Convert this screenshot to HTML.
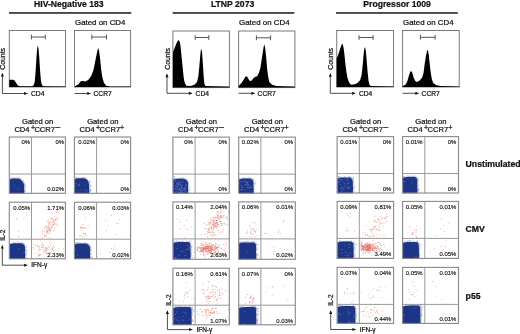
<!DOCTYPE html><html><head><meta charset="utf-8"><style>
html,body{margin:0;padding:0;background:#fff;width:520px;height:334px;overflow:hidden}
svg{display:block;will-change:transform}
text{font-family:"Liberation Sans",sans-serif;fill:#111;stroke:#111;stroke-width:0.22px}
.b{font-weight:bold}.p{font-size:5.95px;stroke-width:0.15px}
</style></head><body>
<svg width="520" height="334" viewBox="0 0 520 334">
<defs><marker id="ah" viewBox="0 0 10 10" refX="10" refY="5" markerWidth="4.2" markerHeight="3.2" orient="auto" markerUnits="userSpaceOnUse"><path d="M0,0 L10,5 L0,10 Z" fill="#111"/></marker><filter id="sb" x="-10%" y="-10%" width="120%" height="120%"><feGaussianBlur stdDeviation="0.45"/></filter></defs>
<path fill="#d8402f" fill-opacity="0.5" d="M44.5,228.5h.9v.9h-.9zM53.4,222.7h.9v.9h-.9zM45.8,225.6h.9v.9h-.9zM46.3,233.1h.9v.9h-.9zM50.5,217.6h.9v.9h-.9zM49.1,229.1h.9v.9h-.9zM49.5,232.4h.9v.9h-.9zM49.7,224.2h.9v.9h-.9zM56.7,224.1h.9v.9h-.9zM51.0,218.6h.9v.9h-.9zM48.7,226.9h.9v.9h-.9zM48.3,225.6h.9v.9h-.9zM47.2,230.5h.9v.9h-.9zM51.1,227.4h.9v.9h-.9zM41.8,230.6h.9v.9h-.9zM45.9,224.9h.9v.9h-.9zM45.2,226.0h.9v.9h-.9zM46.2,227.4h.9v.9h-.9zM57.8,225.7h.9v.9h-.9zM55.9,217.4h.9v.9h-.9zM45.9,230.3h.9v.9h-.9zM47.4,228.4h.9v.9h-.9zM52.9,219.5h.9v.9h-.9zM53.4,220.7h.9v.9h-.9zM55.7,222.7h.9v.9h-.9zM50.8,226.0h.9v.9h-.9zM53.6,222.1h.9v.9h-.9zM52.0,225.2h.9v.9h-.9zM50.1,230.1h.9v.9h-.9zM52.2,220.9h.9v.9h-.9zM49.3,229.0h.9v.9h-.9zM54.6,223.5h.9v.9h-.9zM48.6,229.3h.9v.9h-.9zM49.0,227.4h.9v.9h-.9zM51.6,222.1h.9v.9h-.9zM47.8,223.4h.9v.9h-.9zM45.1,235.8h.9v.9h-.9zM47.8,232.8h.9v.9h-.9zM48.5,230.5h.9v.9h-.9zM46.7,231.0h.9v.9h-.9zM54.8,223.9h.9v.9h-.9zM46.2,232.3h.9v.9h-.9zM55.3,218.6h.9v.9h-.9zM49.0,237.5h.9v.9h-.9zM46.8,230.9h.9v.9h-.9zM52.5,220.3h.9v.9h-.9zM47.4,228.4h.9v.9h-.9zM49.4,230.6h.9v.9h-.9zM44.3,234.8h.9v.9h-.9zM44.2,231.2h.9v.9h-.9zM52.9,224.1h.9v.9h-.9zM47.6,220.1h.9v.9h-.9zM47.7,229.4h.9v.9h-.9zM56.6,219.5h.9v.9h-.9zM46.7,230.2h.9v.9h-.9zM57.1,210.6h.9v.9h-.9zM54.9,220.0h.9v.9h-.9zM47.1,227.4h.9v.9h-.9zM53.3,230.0h.9v.9h-.9zM43.7,236.1h.9v.9h-.9zM42.1,238.1h.9v.9h-.9zM48.9,222.9h.9v.9h-.9zM45.8,235.3h.9v.9h-.9zM49.6,228.0h.9v.9h-.9zM46.8,221.4h.9v.9h-.9zM49.3,222.5h.9v.9h-.9zM51.7,223.8h.9v.9h-.9zM50.8,226.5h.9v.9h-.9zM47.7,226.8h.9v.9h-.9zM47.0,231.6h.9v.9h-.9zM48.6,224.5h.9v.9h-.9zM39.7,236.4h.9v.9h-.9zM53.4,224.8h.9v.9h-.9zM52.2,218.0h.9v.9h-.9zM48.7,227.3h.9v.9h-.9zM53.8,227.6h.9v.9h-.9zM55.7,210.1h.9v.9h-.9zM52.0,227.2h.9v.9h-.9zM44.2,227.2h.9v.9h-.9zM49.9,229.7h.9v.9h-.9zM56.2,212.1h.9v.9h-.9zM54.2,215.9h.9v.9h-.9zM58.2,212.1h.9v.9h-.9zM42.3,233.9h.9v.9h-.9zM57.5,218.3h.9v.9h-.9zM41.9,231.7h.9v.9h-.9zM54.7,219.6h.9v.9h-.9zM49.7,221.5h.9v.9h-.9zM48.3,221.6h.9v.9h-.9zM49.8,230.5h.9v.9h-.9zM58.4,248.7h.9v.9h-.9zM43.1,245.6h.9v.9h-.9zM43.1,244.4h.9v.9h-.9zM54.1,251.9h.9v.9h-.9zM53.3,249.9h.9v.9h-.9zM39.0,249.3h.9v.9h-.9zM41.4,245.1h.9v.9h-.9zM44.0,249.5h.9v.9h-.9zM40.7,254.0h.9v.9h-.9zM45.3,251.0h.9v.9h-.9zM52.5,246.1h.9v.9h-.9zM39.2,253.6h.9v.9h-.9zM46.4,252.5h.9v.9h-.9zM49.3,241.7h.9v.9h-.9zM49.0,246.6h.9v.9h-.9zM38.7,247.5h.9v.9h-.9zM49.4,252.1h.9v.9h-.9zM51.1,243.2h.9v.9h-.9zM39.9,240.7h.9v.9h-.9zM43.3,251.1h.9v.9h-.9zM38.7,249.9h.9v.9h-.9zM45.6,252.5h.9v.9h-.9zM38.3,246.1h.9v.9h-.9zM38.7,255.1h.9v.9h-.9zM51.6,248.6h.9v.9h-.9zM45.6,249.4h.9v.9h-.9zM45.4,248.3h.9v.9h-.9zM41.7,244.6h.9v.9h-.9zM39.5,254.8h.9v.9h-.9zM47.8,249.2h.9v.9h-.9zM42.5,249.2h.9v.9h-.9zM46.5,246.7h.9v.9h-.9zM45.4,249.8h.9v.9h-.9zM38.8,246.2h.9v.9h-.9zM37.0,245.3h.9v.9h-.9zM50.2,240.7h.9v.9h-.9zM42.1,246.9h.9v.9h-.9zM39.7,249.3h.9v.9h-.9zM51.9,249.3h.9v.9h-.9zM43.0,246.9h.9v.9h-.9zM43.1,252.2h.9v.9h-.9zM41.2,245.0h.9v.9h-.9zM35.2,245.1h.9v.9h-.9zM34.3,252.8h.9v.9h-.9zM46.5,248.2h.9v.9h-.9zM54.2,246.7h.9v.9h-.9zM49.3,251.8h.9v.9h-.9zM33.2,243.6h.9v.9h-.9zM37.5,252.2h.9v.9h-.9zM53.1,244.7h.9v.9h-.9zM51.3,247.7h.9v.9h-.9zM41.2,247.1h.9v.9h-.9zM41.7,242.6h.9v.9h-.9zM37.0,244.7h.9v.9h-.9zM47.4,256.3h.9v.9h-.9zM63.1,247.8h.9v.9h-.9zM37.4,255.9h.9v.9h-.9zM48.0,246.4h.9v.9h-.9zM50.6,250.9h.9v.9h-.9zM32.6,247.1h.9v.9h-.9zM42.3,249.1h.9v.9h-.9zM44.9,247.8h.9v.9h-.9zM45.3,246.9h.9v.9h-.9zM37.7,254.3h.9v.9h-.9zM46.5,250.5h.9v.9h-.9zM32.8,248.4h.9v.9h-.9zM49.7,244.5h.9v.9h-.9zM51.7,247.6h.9v.9h-.9zM46.8,248.5h.9v.9h-.9zM45.5,253.2h.9v.9h-.9zM18.0,236.0h.9v.9h-.9zM16.1,218.5h.9v.9h-.9zM23.6,217.5h.9v.9h-.9zM18.1,231.3h.9v.9h-.9zM26.1,212.6h.9v.9h-.9zM86.0,227.6h.9v.9h-.9zM81.5,227.2h.9v.9h-.9zM80.1,227.4h.9v.9h-.9zM82.5,228.1h.9v.9h-.9zM86.0,227.6h.9v.9h-.9zM79.4,235.3h.9v.9h-.9zM80.3,226.3h.9v.9h-.9zM82.7,226.9h.9v.9h-.9zM80.5,227.5h.9v.9h-.9zM88.5,225.4h.9v.9h-.9zM82.7,235.7h.9v.9h-.9zM84.9,233.6h.9v.9h-.9zM85.2,217.2h.9v.9h-.9zM80.8,229.8h.9v.9h-.9zM84.2,236.8h.9v.9h-.9zM84.2,227.6h.9v.9h-.9zM83.1,227.7h.9v.9h-.9zM83.6,233.0h.9v.9h-.9zM82.2,224.1h.9v.9h-.9zM80.9,235.6h.9v.9h-.9zM86.2,235.0h.9v.9h-.9zM85.1,234.0h.9v.9h-.9zM83.0,233.0h.9v.9h-.9zM80.4,227.8h.9v.9h-.9zM106.1,230.4h.9v.9h-.9zM107.4,225.4h.9v.9h-.9zM115.2,234.1h.9v.9h-.9zM105.7,220.4h.9v.9h-.9zM118.5,219.4h.9v.9h-.9zM115.6,222.6h.9v.9h-.9zM111.2,215.1h.9v.9h-.9zM117.7,223.0h.9v.9h-.9zM113.3,248.6h.9v.9h-.9zM110.9,256.4h.9v.9h-.9zM109.8,251.8h.9v.9h-.9zM114.1,246.4h.9v.9h-.9zM111.0,248.0h.9v.9h-.9zM100.0,253.5h.9v.9h-.9zM217.1,225.5h.9v.9h-.9zM216.5,211.0h.9v.9h-.9zM216.8,224.3h.9v.9h-.9zM205.8,224.6h.9v.9h-.9zM206.5,224.8h.9v.9h-.9zM213.5,227.5h.9v.9h-.9zM214.5,226.2h.9v.9h-.9zM209.6,222.3h.9v.9h-.9zM212.3,223.4h.9v.9h-.9zM213.2,229.3h.9v.9h-.9zM216.7,223.6h.9v.9h-.9zM222.1,231.5h.9v.9h-.9zM204.3,227.8h.9v.9h-.9zM207.9,232.0h.9v.9h-.9zM209.1,224.3h.9v.9h-.9zM213.7,224.3h.9v.9h-.9zM217.5,212.1h.9v.9h-.9zM212.8,232.0h.9v.9h-.9zM217.2,217.9h.9v.9h-.9zM213.0,229.0h.9v.9h-.9zM213.2,224.9h.9v.9h-.9zM225.0,217.2h.9v.9h-.9zM217.9,211.7h.9v.9h-.9zM213.1,219.8h.9v.9h-.9zM211.6,220.1h.9v.9h-.9zM223.7,223.6h.9v.9h-.9zM219.8,212.9h.9v.9h-.9zM219.3,218.4h.9v.9h-.9zM226.6,216.3h.9v.9h-.9zM216.7,213.8h.9v.9h-.9zM218.0,217.9h.9v.9h-.9zM215.0,222.4h.9v.9h-.9zM207.6,231.6h.9v.9h-.9zM218.5,225.4h.9v.9h-.9zM213.2,217.5h.9v.9h-.9zM214.5,219.5h.9v.9h-.9zM214.3,217.3h.9v.9h-.9zM209.9,223.6h.9v.9h-.9zM221.2,225.0h.9v.9h-.9zM217.1,213.7h.9v.9h-.9zM215.2,224.8h.9v.9h-.9zM211.7,217.4h.9v.9h-.9zM210.2,232.1h.9v.9h-.9zM216.4,226.4h.9v.9h-.9zM211.3,227.2h.9v.9h-.9zM209.6,222.4h.9v.9h-.9zM221.3,223.1h.9v.9h-.9zM221.3,224.7h.9v.9h-.9zM216.0,222.4h.9v.9h-.9zM210.5,218.2h.9v.9h-.9zM222.8,229.5h.9v.9h-.9zM213.7,231.7h.9v.9h-.9zM213.3,232.2h.9v.9h-.9zM213.5,223.4h.9v.9h-.9zM220.2,222.5h.9v.9h-.9zM208.1,223.4h.9v.9h-.9zM209.1,229.3h.9v.9h-.9zM214.1,217.6h.9v.9h-.9zM206.9,235.9h.9v.9h-.9zM213.2,226.1h.9v.9h-.9zM213.0,227.1h.9v.9h-.9zM213.8,234.8h.9v.9h-.9zM201.0,234.5h.9v.9h-.9zM215.1,222.8h.9v.9h-.9zM226.6,223.8h.9v.9h-.9zM220.3,231.8h.9v.9h-.9zM207.1,228.4h.9v.9h-.9zM218.1,224.1h.9v.9h-.9zM203.6,222.6h.9v.9h-.9zM216.9,217.2h.9v.9h-.9zM224.0,223.3h.9v.9h-.9zM213.1,222.9h.9v.9h-.9zM212.8,219.6h.9v.9h-.9zM213.4,227.2h.9v.9h-.9zM211.8,224.4h.9v.9h-.9zM205.2,228.7h.9v.9h-.9zM209.5,226.5h.9v.9h-.9zM211.3,221.4h.9v.9h-.9zM219.3,216.5h.9v.9h-.9zM226.5,224.7h.9v.9h-.9zM216.2,219.9h.9v.9h-.9zM217.1,234.7h.9v.9h-.9zM220.3,215.4h.9v.9h-.9zM209.3,229.3h.9v.9h-.9zM215.6,216.7h.9v.9h-.9zM210.8,219.6h.9v.9h-.9zM216.3,220.5h.9v.9h-.9zM226.5,217.7h.9v.9h-.9zM215.4,225.6h.9v.9h-.9zM209.7,232.3h.9v.9h-.9zM213.5,222.7h.9v.9h-.9zM212.5,224.3h.9v.9h-.9zM217.7,230.4h.9v.9h-.9zM208.8,221.9h.9v.9h-.9zM207.2,230.7h.9v.9h-.9zM212.0,231.2h.9v.9h-.9zM220.4,211.6h.9v.9h-.9zM215.5,226.6h.9v.9h-.9zM221.1,215.9h.9v.9h-.9zM216.8,220.2h.9v.9h-.9zM209.3,227.5h.9v.9h-.9zM218.9,218.8h.9v.9h-.9zM214.1,207.7h.9v.9h-.9zM207.2,232.9h.9v.9h-.9zM221.6,209.2h.9v.9h-.9zM208.2,228.0h.9v.9h-.9zM218.3,233.2h.9v.9h-.9zM215.1,226.4h.9v.9h-.9zM210.3,221.8h.9v.9h-.9zM215.0,219.6h.9v.9h-.9zM215.7,222.3h.9v.9h-.9zM210.7,235.0h.9v.9h-.9zM216.2,227.9h.9v.9h-.9zM218.1,214.4h.9v.9h-.9zM211.5,228.8h.9v.9h-.9zM204.6,233.8h.9v.9h-.9zM211.0,227.6h.9v.9h-.9zM216.8,216.2h.9v.9h-.9zM220.5,221.1h.9v.9h-.9zM218.2,219.4h.9v.9h-.9zM208.7,231.4h.9v.9h-.9zM226.7,219.1h.9v.9h-.9zM210.7,231.6h.9v.9h-.9zM208.4,230.0h.9v.9h-.9zM208.0,229.2h.9v.9h-.9zM211.9,233.5h.9v.9h-.9zM220.0,216.6h.9v.9h-.9zM221.2,217.3h.9v.9h-.9zM212.5,235.6h.9v.9h-.9zM218.9,221.1h.9v.9h-.9zM219.4,226.2h.9v.9h-.9zM209.0,222.5h.9v.9h-.9zM222.2,222.9h.9v.9h-.9zM215.8,222.6h.9v.9h-.9zM207.4,221.4h.9v.9h-.9zM215.1,226.5h.9v.9h-.9zM220.6,210.1h.9v.9h-.9zM217.6,230.0h.9v.9h-.9zM214.6,234.1h.9v.9h-.9zM213.9,220.8h.9v.9h-.9zM210.2,252.7h.9v.9h-.9zM196.2,247.4h.9v.9h-.9zM203.0,249.6h.9v.9h-.9zM218.3,247.2h.9v.9h-.9zM199.3,248.1h.9v.9h-.9zM206.0,243.7h.9v.9h-.9zM214.2,246.5h.9v.9h-.9zM212.8,244.3h.9v.9h-.9zM215.7,244.0h.9v.9h-.9zM215.4,242.9h.9v.9h-.9zM217.7,247.0h.9v.9h-.9zM197.1,247.3h.9v.9h-.9zM210.4,245.2h.9v.9h-.9zM204.5,248.8h.9v.9h-.9zM205.0,249.2h.9v.9h-.9zM210.1,250.8h.9v.9h-.9zM203.2,255.1h.9v.9h-.9zM213.6,248.9h.9v.9h-.9zM215.6,250.7h.9v.9h-.9zM208.7,246.3h.9v.9h-.9zM215.2,249.2h.9v.9h-.9zM211.3,248.3h.9v.9h-.9zM210.0,249.8h.9v.9h-.9zM209.0,252.4h.9v.9h-.9zM203.9,246.9h.9v.9h-.9zM210.3,250.1h.9v.9h-.9zM213.5,252.2h.9v.9h-.9zM204.7,251.3h.9v.9h-.9zM211.3,245.1h.9v.9h-.9zM207.0,253.8h.9v.9h-.9zM213.5,246.7h.9v.9h-.9zM203.1,248.2h.9v.9h-.9zM224.2,250.1h.9v.9h-.9zM210.2,245.4h.9v.9h-.9zM199.7,247.4h.9v.9h-.9zM204.7,256.4h.9v.9h-.9zM205.2,246.3h.9v.9h-.9zM215.9,248.2h.9v.9h-.9zM199.4,251.6h.9v.9h-.9zM205.8,244.3h.9v.9h-.9zM210.2,249.4h.9v.9h-.9zM205.6,250.0h.9v.9h-.9zM213.7,245.5h.9v.9h-.9zM207.1,251.4h.9v.9h-.9zM215.0,251.9h.9v.9h-.9zM221.0,248.0h.9v.9h-.9zM215.4,243.7h.9v.9h-.9zM212.8,249.1h.9v.9h-.9zM207.3,246.8h.9v.9h-.9zM200.2,248.4h.9v.9h-.9zM216.9,247.0h.9v.9h-.9zM211.7,246.1h.9v.9h-.9zM209.8,245.2h.9v.9h-.9zM210.6,247.4h.9v.9h-.9zM210.2,246.3h.9v.9h-.9zM199.8,247.1h.9v.9h-.9zM215.3,252.4h.9v.9h-.9zM205.7,250.2h.9v.9h-.9zM213.3,249.1h.9v.9h-.9zM197.1,248.9h.9v.9h-.9zM201.2,251.3h.9v.9h-.9zM213.5,249.7h.9v.9h-.9zM212.9,244.4h.9v.9h-.9zM214.8,248.2h.9v.9h-.9zM206.7,246.0h.9v.9h-.9zM200.9,246.8h.9v.9h-.9zM209.5,246.2h.9v.9h-.9zM203.7,246.5h.9v.9h-.9zM201.8,250.5h.9v.9h-.9zM206.1,250.4h.9v.9h-.9zM199.9,250.6h.9v.9h-.9zM207.8,249.9h.9v.9h-.9zM207.3,245.5h.9v.9h-.9zM216.5,246.8h.9v.9h-.9zM207.0,245.5h.9v.9h-.9zM209.4,246.9h.9v.9h-.9zM210.0,249.0h.9v.9h-.9zM203.2,244.1h.9v.9h-.9zM211.0,250.6h.9v.9h-.9zM212.9,244.8h.9v.9h-.9zM212.2,249.1h.9v.9h-.9zM210.0,249.2h.9v.9h-.9zM205.7,248.6h.9v.9h-.9zM214.5,246.6h.9v.9h-.9zM197.9,247.7h.9v.9h-.9zM209.4,242.8h.9v.9h-.9zM203.3,249.7h.9v.9h-.9zM206.9,248.3h.9v.9h-.9zM199.2,250.5h.9v.9h-.9zM220.3,247.4h.9v.9h-.9zM202.9,244.8h.9v.9h-.9zM214.2,248.3h.9v.9h-.9zM202.4,251.4h.9v.9h-.9zM213.4,249.7h.9v.9h-.9zM212.4,244.6h.9v.9h-.9zM214.5,252.0h.9v.9h-.9zM215.2,246.0h.9v.9h-.9zM203.0,250.6h.9v.9h-.9zM215.0,251.4h.9v.9h-.9zM216.4,247.7h.9v.9h-.9zM205.1,242.8h.9v.9h-.9zM213.5,254.4h.9v.9h-.9zM204.8,246.7h.9v.9h-.9zM212.5,249.0h.9v.9h-.9zM198.4,246.0h.9v.9h-.9zM200.3,253.7h.9v.9h-.9zM203.0,250.4h.9v.9h-.9zM221.4,253.3h.9v.9h-.9zM218.0,252.6h.9v.9h-.9zM199.4,247.0h.9v.9h-.9zM202.9,247.2h.9v.9h-.9zM226.3,243.3h.9v.9h-.9zM211.9,244.5h.9v.9h-.9zM217.4,251.6h.9v.9h-.9zM204.4,253.8h.9v.9h-.9zM208.5,251.6h.9v.9h-.9zM210.2,246.4h.9v.9h-.9zM205.3,247.7h.9v.9h-.9zM212.3,248.4h.9v.9h-.9zM224.5,247.5h.9v.9h-.9zM204.7,246.0h.9v.9h-.9zM202.6,244.0h.9v.9h-.9zM201.1,250.5h.9v.9h-.9zM208.4,247.5h.9v.9h-.9zM210.5,251.0h.9v.9h-.9zM212.3,250.2h.9v.9h-.9zM204.1,247.3h.9v.9h-.9zM202.6,247.7h.9v.9h-.9zM202.3,247.0h.9v.9h-.9zM206.8,247.4h.9v.9h-.9zM206.1,246.6h.9v.9h-.9zM217.2,247.0h.9v.9h-.9zM200.9,248.5h.9v.9h-.9zM200.4,245.0h.9v.9h-.9zM208.6,243.3h.9v.9h-.9zM215.2,243.3h.9v.9h-.9zM201.7,249.6h.9v.9h-.9zM199.6,247.4h.9v.9h-.9zM207.0,248.8h.9v.9h-.9zM205.7,242.1h.9v.9h-.9zM206.9,244.2h.9v.9h-.9zM208.1,245.6h.9v.9h-.9zM205.8,247.4h.9v.9h-.9zM213.4,250.1h.9v.9h-.9zM201.0,248.0h.9v.9h-.9zM218.2,249.4h.9v.9h-.9zM202.9,247.7h.9v.9h-.9zM205.6,250.6h.9v.9h-.9zM208.2,249.1h.9v.9h-.9zM223.5,244.1h.9v.9h-.9zM200.9,243.2h.9v.9h-.9zM196.9,250.4h.9v.9h-.9zM210.0,252.6h.9v.9h-.9zM218.1,250.9h.9v.9h-.9zM214.2,250.4h.9v.9h-.9zM208.2,248.0h.9v.9h-.9zM208.2,250.4h.9v.9h-.9zM206.9,248.9h.9v.9h-.9zM218.2,244.8h.9v.9h-.9zM202.7,249.6h.9v.9h-.9zM206.2,247.6h.9v.9h-.9zM222.7,249.2h.9v.9h-.9zM205.1,251.1h.9v.9h-.9zM225.6,244.9h.9v.9h-.9zM203.3,248.3h.9v.9h-.9zM203.5,254.1h.9v.9h-.9zM211.7,246.9h.9v.9h-.9zM211.4,245.8h.9v.9h-.9zM203.8,248.3h.9v.9h-.9zM224.7,241.7h.9v.9h-.9zM210.9,251.8h.9v.9h-.9zM213.2,253.4h.9v.9h-.9zM211.2,248.4h.9v.9h-.9zM207.1,245.6h.9v.9h-.9zM219.4,244.7h.9v.9h-.9zM207.1,246.5h.9v.9h-.9zM202.5,241.8h.9v.9h-.9zM205.3,248.4h.9v.9h-.9zM209.0,250.4h.9v.9h-.9zM206.9,246.2h.9v.9h-.9zM210.2,249.9h.9v.9h-.9zM201.7,243.7h.9v.9h-.9zM200.8,251.0h.9v.9h-.9zM215.0,245.5h.9v.9h-.9zM208.8,250.3h.9v.9h-.9zM217.3,246.2h.9v.9h-.9zM206.3,251.9h.9v.9h-.9zM224.9,252.3h.9v.9h-.9zM200.0,249.3h.9v.9h-.9zM205.9,247.8h.9v.9h-.9zM203.4,246.7h.9v.9h-.9zM207.9,253.0h.9v.9h-.9zM212.9,249.2h.9v.9h-.9zM208.2,245.9h.9v.9h-.9zM206.4,251.5h.9v.9h-.9zM213.8,253.5h.9v.9h-.9zM209.8,247.9h.9v.9h-.9zM196.7,249.1h.9v.9h-.9zM203.6,248.0h.9v.9h-.9zM198.5,246.6h.9v.9h-.9zM201.5,251.2h.9v.9h-.9zM209.7,244.7h.9v.9h-.9zM204.6,244.9h.9v.9h-.9zM212.1,247.5h.9v.9h-.9zM208.8,246.3h.9v.9h-.9zM204.0,246.7h.9v.9h-.9zM196.8,249.8h.9v.9h-.9zM210.8,243.2h.9v.9h-.9zM208.7,251.2h.9v.9h-.9zM209.7,251.6h.9v.9h-.9zM183.7,225.0h.9v.9h-.9zM178.5,218.7h.9v.9h-.9zM175.9,218.7h.9v.9h-.9zM186.2,228.6h.9v.9h-.9zM190.8,225.9h.9v.9h-.9zM180.1,228.0h.9v.9h-.9zM184.3,237.5h.9v.9h-.9zM179.3,221.3h.9v.9h-.9zM186.0,220.0h.9v.9h-.9zM187.6,229.8h.9v.9h-.9zM254.5,231.1h.9v.9h-.9zM249.3,225.8h.9v.9h-.9zM251.6,236.6h.9v.9h-.9zM256.7,234.9h.9v.9h-.9zM253.1,233.4h.9v.9h-.9zM254.5,236.5h.9v.9h-.9zM254.6,222.3h.9v.9h-.9zM254.9,231.9h.9v.9h-.9zM250.6,232.6h.9v.9h-.9zM252.9,229.7h.9v.9h-.9zM246.9,230.6h.9v.9h-.9zM253.7,229.8h.9v.9h-.9zM247.2,232.3h.9v.9h-.9zM254.2,230.9h.9v.9h-.9zM253.3,228.2h.9v.9h-.9zM250.0,232.6h.9v.9h-.9zM250.9,230.9h.9v.9h-.9zM252.4,221.9h.9v.9h-.9zM252.3,233.8h.9v.9h-.9zM249.9,228.8h.9v.9h-.9zM245.2,232.8h.9v.9h-.9zM250.2,233.4h.9v.9h-.9zM256.1,229.2h.9v.9h-.9zM255.0,231.3h.9v.9h-.9zM251.4,228.6h.9v.9h-.9zM249.4,236.4h.9v.9h-.9zM283.0,220.0h.9v.9h-.9zM282.7,221.6h.9v.9h-.9zM264.0,233.2h.9v.9h-.9zM265.8,233.1h.9v.9h-.9zM277.6,231.4h.9v.9h-.9zM280.1,232.9h.9v.9h-.9zM278.8,229.5h.9v.9h-.9zM278.0,232.6h.9v.9h-.9zM272.9,254.1h.9v.9h-.9zM288.1,249.7h.9v.9h-.9zM279.5,247.9h.9v.9h-.9zM273.7,251.0h.9v.9h-.9zM273.3,246.5h.9v.9h-.9zM185.9,293.1h.9v.9h-.9zM187.3,296.3h.9v.9h-.9zM178.9,300.5h.9v.9h-.9zM185.3,287.4h.9v.9h-.9zM184.5,294.7h.9v.9h-.9zM189.5,289.8h.9v.9h-.9zM186.6,282.4h.9v.9h-.9zM186.7,291.3h.9v.9h-.9zM184.3,297.3h.9v.9h-.9zM193.2,298.2h.9v.9h-.9zM182.9,301.2h.9v.9h-.9zM184.7,291.8h.9v.9h-.9zM183.7,294.7h.9v.9h-.9zM188.2,292.9h.9v.9h-.9zM211.8,292.2h.9v.9h-.9zM208.6,298.3h.9v.9h-.9zM209.6,292.2h.9v.9h-.9zM212.8,288.9h.9v.9h-.9zM213.8,284.9h.9v.9h-.9zM215.0,296.0h.9v.9h-.9zM208.3,301.5h.9v.9h-.9zM206.4,296.0h.9v.9h-.9zM217.2,290.1h.9v.9h-.9zM209.9,297.9h.9v.9h-.9zM213.0,294.5h.9v.9h-.9zM222.4,294.2h.9v.9h-.9zM202.6,289.0h.9v.9h-.9zM219.0,292.3h.9v.9h-.9zM208.7,282.2h.9v.9h-.9zM212.8,301.2h.9v.9h-.9zM207.8,281.1h.9v.9h-.9zM217.4,290.0h.9v.9h-.9zM211.5,291.2h.9v.9h-.9zM206.0,295.4h.9v.9h-.9zM218.8,295.0h.9v.9h-.9zM207.4,298.7h.9v.9h-.9zM211.3,296.2h.9v.9h-.9zM205.4,296.6h.9v.9h-.9zM216.1,300.0h.9v.9h-.9zM212.5,295.4h.9v.9h-.9zM207.6,297.8h.9v.9h-.9zM216.6,298.9h.9v.9h-.9zM212.3,286.3h.9v.9h-.9zM212.9,291.9h.9v.9h-.9zM206.8,296.3h.9v.9h-.9zM218.9,295.2h.9v.9h-.9zM220.1,295.2h.9v.9h-.9zM207.2,289.8h.9v.9h-.9zM209.4,296.7h.9v.9h-.9zM219.2,293.7h.9v.9h-.9zM221.4,288.5h.9v.9h-.9zM209.8,301.1h.9v.9h-.9zM214.4,298.7h.9v.9h-.9zM202.7,283.9h.9v.9h-.9zM205.4,298.5h.9v.9h-.9zM225.3,289.7h.9v.9h-.9zM207.9,287.5h.9v.9h-.9zM205.9,296.0h.9v.9h-.9zM207.8,303.2h.9v.9h-.9zM219.1,289.3h.9v.9h-.9zM214.9,292.2h.9v.9h-.9zM217.0,297.9h.9v.9h-.9zM209.2,297.9h.9v.9h-.9zM217.1,292.5h.9v.9h-.9zM213.7,296.7h.9v.9h-.9zM211.9,289.4h.9v.9h-.9zM221.8,293.0h.9v.9h-.9zM208.2,295.5h.9v.9h-.9zM202.8,293.3h.9v.9h-.9zM204.3,290.7h.9v.9h-.9zM201.9,289.1h.9v.9h-.9zM219.5,292.0h.9v.9h-.9zM201.8,302.4h.9v.9h-.9zM206.3,301.0h.9v.9h-.9zM211.8,285.1h.9v.9h-.9zM226.4,290.7h.9v.9h-.9zM216.3,299.5h.9v.9h-.9zM203.9,293.4h.9v.9h-.9zM208.1,296.3h.9v.9h-.9zM215.0,286.2h.9v.9h-.9zM212.2,297.2h.9v.9h-.9zM210.1,296.1h.9v.9h-.9zM209.5,292.8h.9v.9h-.9zM215.2,293.8h.9v.9h-.9zM220.2,298.1h.9v.9h-.9zM217.6,296.9h.9v.9h-.9zM216.0,286.8h.9v.9h-.9zM217.5,302.4h.9v.9h-.9zM215.0,291.7h.9v.9h-.9zM208.8,315.0h.9v.9h-.9zM211.0,309.6h.9v.9h-.9zM207.9,310.1h.9v.9h-.9zM207.7,309.8h.9v.9h-.9zM203.1,315.6h.9v.9h-.9zM216.2,308.1h.9v.9h-.9zM202.3,310.9h.9v.9h-.9zM206.4,308.6h.9v.9h-.9zM215.1,308.1h.9v.9h-.9zM213.8,313.7h.9v.9h-.9zM206.5,310.4h.9v.9h-.9zM209.5,312.4h.9v.9h-.9zM212.7,311.8h.9v.9h-.9zM206.2,309.6h.9v.9h-.9zM204.2,310.2h.9v.9h-.9zM228.2,309.0h.9v.9h-.9zM219.6,313.2h.9v.9h-.9zM210.5,312.5h.9v.9h-.9zM206.5,315.9h.9v.9h-.9zM212.5,311.9h.9v.9h-.9zM208.2,312.5h.9v.9h-.9zM201.2,311.2h.9v.9h-.9zM204.8,313.5h.9v.9h-.9zM213.2,307.5h.9v.9h-.9zM207.5,314.4h.9v.9h-.9zM200.2,309.1h.9v.9h-.9zM215.9,311.7h.9v.9h-.9zM206.0,309.1h.9v.9h-.9zM210.2,310.7h.9v.9h-.9zM210.5,313.1h.9v.9h-.9zM213.9,311.2h.9v.9h-.9zM205.5,312.1h.9v.9h-.9zM208.4,312.4h.9v.9h-.9zM205.4,311.4h.9v.9h-.9zM205.0,310.6h.9v.9h-.9zM210.1,314.8h.9v.9h-.9zM205.4,313.4h.9v.9h-.9zM211.4,312.3h.9v.9h-.9zM213.7,310.7h.9v.9h-.9zM212.9,312.8h.9v.9h-.9zM213.2,316.8h.9v.9h-.9zM201.8,312.3h.9v.9h-.9zM211.5,309.6h.9v.9h-.9zM217.3,313.1h.9v.9h-.9zM203.6,309.1h.9v.9h-.9zM206.2,317.8h.9v.9h-.9zM196.6,313.7h.9v.9h-.9zM208.3,310.5h.9v.9h-.9zM213.2,312.3h.9v.9h-.9zM211.0,312.7h.9v.9h-.9zM201.6,315.2h.9v.9h-.9zM205.9,314.8h.9v.9h-.9zM213.8,312.1h.9v.9h-.9zM210.0,311.9h.9v.9h-.9zM196.4,311.2h.9v.9h-.9zM212.0,308.1h.9v.9h-.9zM198.8,314.7h.9v.9h-.9zM214.6,308.2h.9v.9h-.9zM212.2,311.9h.9v.9h-.9zM215.8,311.2h.9v.9h-.9zM250.5,296.4h.9v.9h-.9zM251.5,298.6h.9v.9h-.9zM249.4,297.8h.9v.9h-.9zM249.2,301.2h.9v.9h-.9zM248.5,293.7h.9v.9h-.9zM248.6,302.7h.9v.9h-.9zM249.8,301.2h.9v.9h-.9zM252.8,297.3h.9v.9h-.9zM252.9,300.8h.9v.9h-.9zM250.9,296.6h.9v.9h-.9zM250.9,294.6h.9v.9h-.9zM250.3,297.0h.9v.9h-.9zM252.1,300.2h.9v.9h-.9zM249.4,302.0h.9v.9h-.9zM253.9,299.2h.9v.9h-.9zM249.2,300.8h.9v.9h-.9zM245.0,297.0h.9v.9h-.9zM245.2,302.8h.9v.9h-.9zM251.5,302.5h.9v.9h-.9zM250.6,296.9h.9v.9h-.9zM253.1,298.0h.9v.9h-.9zM252.0,302.0h.9v.9h-.9zM252.4,298.9h.9v.9h-.9zM249.4,296.4h.9v.9h-.9zM249.9,297.1h.9v.9h-.9zM247.1,294.1h.9v.9h-.9zM283.0,285.4h.9v.9h-.9zM265.6,291.8h.9v.9h-.9zM287.5,299.5h.9v.9h-.9zM272.8,285.9h.9v.9h-.9zM271.8,286.6h.9v.9h-.9zM271.7,294.9h.9v.9h-.9zM267.6,287.4h.9v.9h-.9zM374.9,225.8h.9v.9h-.9zM375.3,220.5h.9v.9h-.9zM373.6,220.8h.9v.9h-.9zM379.2,224.3h.9v.9h-.9zM378.7,220.0h.9v.9h-.9zM385.4,205.0h.9v.9h-.9zM364.6,234.1h.9v.9h-.9zM372.6,226.3h.9v.9h-.9zM383.8,217.5h.9v.9h-.9zM386.3,221.0h.9v.9h-.9zM381.6,218.0h.9v.9h-.9zM377.7,225.9h.9v.9h-.9zM384.9,218.0h.9v.9h-.9zM369.4,228.5h.9v.9h-.9zM379.7,222.5h.9v.9h-.9zM369.9,235.9h.9v.9h-.9zM379.1,230.0h.9v.9h-.9zM381.2,218.1h.9v.9h-.9zM385.5,216.5h.9v.9h-.9zM369.0,221.4h.9v.9h-.9zM378.7,222.2h.9v.9h-.9zM373.4,228.4h.9v.9h-.9zM379.3,227.5h.9v.9h-.9zM386.6,216.0h.9v.9h-.9zM376.6,229.0h.9v.9h-.9zM364.9,234.8h.9v.9h-.9zM373.9,215.9h.9v.9h-.9zM383.5,235.1h.9v.9h-.9zM373.0,235.5h.9v.9h-.9zM385.1,218.1h.9v.9h-.9zM373.3,235.8h.9v.9h-.9zM375.0,226.5h.9v.9h-.9zM371.3,231.2h.9v.9h-.9zM375.6,221.9h.9v.9h-.9zM373.7,219.5h.9v.9h-.9zM375.3,229.3h.9v.9h-.9zM377.9,218.6h.9v.9h-.9zM376.3,228.5h.9v.9h-.9zM383.5,222.5h.9v.9h-.9zM372.3,229.6h.9v.9h-.9zM383.1,225.7h.9v.9h-.9zM378.9,219.4h.9v.9h-.9zM371.0,232.7h.9v.9h-.9zM375.9,233.9h.9v.9h-.9zM365.6,231.9h.9v.9h-.9zM369.7,230.2h.9v.9h-.9zM365.6,225.3h.9v.9h-.9zM367.5,235.0h.9v.9h-.9zM372.0,235.2h.9v.9h-.9zM377.3,219.1h.9v.9h-.9zM381.5,223.2h.9v.9h-.9zM380.5,216.5h.9v.9h-.9zM374.0,226.8h.9v.9h-.9zM371.4,228.8h.9v.9h-.9zM362.4,232.3h.9v.9h-.9zM369.0,236.4h.9v.9h-.9zM376.7,221.4h.9v.9h-.9zM373.0,228.0h.9v.9h-.9zM380.3,222.7h.9v.9h-.9zM370.9,229.1h.9v.9h-.9zM385.9,213.7h.9v.9h-.9zM373.6,221.3h.9v.9h-.9zM379.4,234.7h.9v.9h-.9zM377.9,229.5h.9v.9h-.9zM366.9,234.0h.9v.9h-.9zM365.3,244.9h.9v.9h-.9zM379.8,243.2h.9v.9h-.9zM376.4,247.5h.9v.9h-.9zM362.4,247.5h.9v.9h-.9zM362.9,247.5h.9v.9h-.9zM364.1,243.9h.9v.9h-.9zM384.1,245.7h.9v.9h-.9zM374.0,246.9h.9v.9h-.9zM372.1,243.7h.9v.9h-.9zM374.1,248.2h.9v.9h-.9zM360.9,249.2h.9v.9h-.9zM371.6,254.7h.9v.9h-.9zM369.5,249.4h.9v.9h-.9zM371.7,249.0h.9v.9h-.9zM367.9,245.9h.9v.9h-.9zM372.3,250.3h.9v.9h-.9zM360.9,244.0h.9v.9h-.9zM367.8,251.7h.9v.9h-.9zM366.8,242.5h.9v.9h-.9zM372.9,249.0h.9v.9h-.9zM379.8,247.5h.9v.9h-.9zM380.0,245.1h.9v.9h-.9zM373.5,247.4h.9v.9h-.9zM360.8,246.3h.9v.9h-.9zM376.1,250.0h.9v.9h-.9zM365.7,249.9h.9v.9h-.9zM373.5,249.4h.9v.9h-.9zM369.8,247.8h.9v.9h-.9zM363.0,246.8h.9v.9h-.9zM368.8,245.1h.9v.9h-.9zM366.3,247.4h.9v.9h-.9zM369.3,249.8h.9v.9h-.9zM361.8,246.0h.9v.9h-.9zM369.7,246.0h.9v.9h-.9zM370.0,245.8h.9v.9h-.9zM375.2,246.4h.9v.9h-.9zM361.1,249.0h.9v.9h-.9zM378.1,241.9h.9v.9h-.9zM367.2,247.2h.9v.9h-.9zM374.3,251.0h.9v.9h-.9zM367.1,242.9h.9v.9h-.9zM372.1,249.7h.9v.9h-.9zM370.9,247.2h.9v.9h-.9zM363.1,253.4h.9v.9h-.9zM360.8,243.1h.9v.9h-.9zM374.0,247.8h.9v.9h-.9zM372.1,248.0h.9v.9h-.9zM378.3,250.8h.9v.9h-.9zM364.7,249.7h.9v.9h-.9zM360.9,242.5h.9v.9h-.9zM375.3,245.9h.9v.9h-.9zM364.0,248.4h.9v.9h-.9zM367.7,245.0h.9v.9h-.9zM363.7,249.0h.9v.9h-.9zM362.4,247.4h.9v.9h-.9zM362.0,248.2h.9v.9h-.9zM378.9,248.5h.9v.9h-.9zM374.8,248.2h.9v.9h-.9zM362.2,246.2h.9v.9h-.9zM368.5,248.2h.9v.9h-.9zM364.4,248.6h.9v.9h-.9zM363.7,247.2h.9v.9h-.9zM368.0,244.0h.9v.9h-.9zM374.1,247.1h.9v.9h-.9zM368.7,246.9h.9v.9h-.9zM362.6,249.6h.9v.9h-.9zM364.5,248.6h.9v.9h-.9zM361.8,244.8h.9v.9h-.9zM365.2,249.8h.9v.9h-.9zM370.5,247.4h.9v.9h-.9zM367.9,249.1h.9v.9h-.9zM369.8,244.4h.9v.9h-.9zM371.9,245.0h.9v.9h-.9zM366.0,250.8h.9v.9h-.9zM382.8,250.8h.9v.9h-.9zM370.6,245.0h.9v.9h-.9zM363.4,251.4h.9v.9h-.9zM370.1,243.4h.9v.9h-.9zM377.5,248.5h.9v.9h-.9zM376.0,248.1h.9v.9h-.9zM367.2,246.6h.9v.9h-.9zM377.2,245.3h.9v.9h-.9zM367.4,246.9h.9v.9h-.9zM367.5,244.3h.9v.9h-.9zM360.6,240.3h.9v.9h-.9zM370.1,246.5h.9v.9h-.9zM369.3,244.3h.9v.9h-.9zM368.1,244.5h.9v.9h-.9zM361.9,247.9h.9v.9h-.9zM371.9,248.5h.9v.9h-.9zM367.8,246.0h.9v.9h-.9zM376.5,250.3h.9v.9h-.9zM364.2,244.2h.9v.9h-.9zM370.3,247.9h.9v.9h-.9zM362.5,253.0h.9v.9h-.9zM369.5,249.6h.9v.9h-.9zM376.7,250.7h.9v.9h-.9zM366.5,247.1h.9v.9h-.9zM362.7,248.0h.9v.9h-.9zM361.7,241.7h.9v.9h-.9zM375.8,249.6h.9v.9h-.9zM372.0,250.0h.9v.9h-.9zM369.6,249.3h.9v.9h-.9zM370.9,249.1h.9v.9h-.9zM361.9,245.3h.9v.9h-.9zM362.0,249.2h.9v.9h-.9zM371.1,245.0h.9v.9h-.9zM362.1,245.5h.9v.9h-.9zM373.3,246.7h.9v.9h-.9zM366.6,245.2h.9v.9h-.9zM367.3,251.2h.9v.9h-.9zM363.9,246.1h.9v.9h-.9zM378.3,248.9h.9v.9h-.9zM361.2,249.9h.9v.9h-.9zM360.4,248.5h.9v.9h-.9zM373.6,245.5h.9v.9h-.9zM363.7,247.2h.9v.9h-.9zM368.1,245.8h.9v.9h-.9zM364.0,251.7h.9v.9h-.9zM377.1,247.9h.9v.9h-.9zM361.1,245.6h.9v.9h-.9zM366.3,248.3h.9v.9h-.9zM377.7,245.7h.9v.9h-.9zM368.9,245.9h.9v.9h-.9zM368.9,245.2h.9v.9h-.9zM370.3,250.1h.9v.9h-.9zM365.7,246.2h.9v.9h-.9zM368.7,243.6h.9v.9h-.9zM379.0,243.5h.9v.9h-.9zM365.9,244.7h.9v.9h-.9zM377.1,245.7h.9v.9h-.9zM365.0,252.0h.9v.9h-.9zM367.3,245.0h.9v.9h-.9zM368.0,247.5h.9v.9h-.9zM363.5,246.5h.9v.9h-.9zM366.8,248.9h.9v.9h-.9zM372.7,249.2h.9v.9h-.9zM367.3,249.1h.9v.9h-.9zM366.8,250.1h.9v.9h-.9zM370.5,245.9h.9v.9h-.9zM375.5,243.1h.9v.9h-.9zM362.2,244.9h.9v.9h-.9zM367.3,243.8h.9v.9h-.9zM360.8,242.1h.9v.9h-.9zM368.7,245.0h.9v.9h-.9zM381.3,249.0h.9v.9h-.9zM361.1,250.5h.9v.9h-.9zM368.7,249.8h.9v.9h-.9zM361.3,250.1h.9v.9h-.9zM374.7,245.9h.9v.9h-.9zM362.9,246.0h.9v.9h-.9zM369.6,253.3h.9v.9h-.9zM379.0,250.9h.9v.9h-.9zM366.7,246.2h.9v.9h-.9zM370.3,246.3h.9v.9h-.9zM365.2,246.5h.9v.9h-.9zM373.1,246.8h.9v.9h-.9zM369.5,246.3h.9v.9h-.9zM366.9,246.2h.9v.9h-.9zM375.7,247.6h.9v.9h-.9zM377.1,246.6h.9v.9h-.9zM374.5,243.4h.9v.9h-.9zM365.6,246.9h.9v.9h-.9zM364.2,246.7h.9v.9h-.9zM362.5,246.6h.9v.9h-.9zM364.0,247.0h.9v.9h-.9zM366.3,244.4h.9v.9h-.9zM365.6,247.1h.9v.9h-.9zM360.4,247.3h.9v.9h-.9zM375.6,246.4h.9v.9h-.9zM371.4,248.6h.9v.9h-.9zM363.2,250.5h.9v.9h-.9zM383.2,244.3h.9v.9h-.9zM381.0,245.2h.9v.9h-.9zM376.8,242.3h.9v.9h-.9zM374.9,247.4h.9v.9h-.9zM360.3,244.9h.9v.9h-.9zM361.7,244.7h.9v.9h-.9zM370.3,246.5h.9v.9h-.9zM370.9,247.3h.9v.9h-.9zM378.2,242.2h.9v.9h-.9zM369.5,247.1h.9v.9h-.9zM372.4,243.5h.9v.9h-.9zM368.5,242.3h.9v.9h-.9zM370.3,247.0h.9v.9h-.9zM372.5,240.2h.9v.9h-.9zM371.1,244.7h.9v.9h-.9zM365.2,249.1h.9v.9h-.9zM378.2,247.4h.9v.9h-.9zM367.4,250.4h.9v.9h-.9zM362.6,246.6h.9v.9h-.9zM365.0,244.4h.9v.9h-.9zM369.2,252.3h.9v.9h-.9zM369.5,248.3h.9v.9h-.9zM367.9,250.0h.9v.9h-.9zM369.1,244.7h.9v.9h-.9zM368.6,250.8h.9v.9h-.9zM367.5,250.2h.9v.9h-.9zM367.6,252.3h.9v.9h-.9zM369.7,248.7h.9v.9h-.9zM346.9,230.9h.9v.9h-.9zM347.1,214.6h.9v.9h-.9zM349.2,216.6h.9v.9h-.9zM354.0,230.6h.9v.9h-.9zM348.1,229.9h.9v.9h-.9zM345.4,229.8h.9v.9h-.9zM346.4,227.5h.9v.9h-.9zM349.7,213.2h.9v.9h-.9zM411.2,233.8h.9v.9h-.9zM408.9,226.5h.9v.9h-.9zM407.5,232.4h.9v.9h-.9zM416.5,231.5h.9v.9h-.9zM412.2,232.3h.9v.9h-.9zM414.4,229.6h.9v.9h-.9zM419.7,228.2h.9v.9h-.9zM416.0,237.2h.9v.9h-.9zM414.8,229.9h.9v.9h-.9zM416.0,236.7h.9v.9h-.9zM416.6,225.6h.9v.9h-.9zM416.1,229.3h.9v.9h-.9zM411.9,232.8h.9v.9h-.9zM414.7,232.4h.9v.9h-.9zM412.5,232.3h.9v.9h-.9zM412.3,234.0h.9v.9h-.9zM415.6,235.3h.9v.9h-.9zM409.2,229.4h.9v.9h-.9zM440.8,218.7h.9v.9h-.9zM443.1,225.2h.9v.9h-.9zM440.5,228.4h.9v.9h-.9zM435.1,235.4h.9v.9h-.9zM448.4,222.7h.9v.9h-.9zM443.8,230.5h.9v.9h-.9zM433.9,248.6h.9v.9h-.9zM445.7,239.7h.9v.9h-.9zM429.5,251.4h.9v.9h-.9zM445.1,246.3h.9v.9h-.9zM441.8,249.9h.9v.9h-.9zM440.6,246.0h.9v.9h-.9zM444.5,250.8h.9v.9h-.9zM353.0,300.7h.9v.9h-.9zM350.2,293.2h.9v.9h-.9zM351.4,302.6h.9v.9h-.9zM344.2,292.0h.9v.9h-.9zM347.5,292.8h.9v.9h-.9zM353.4,292.5h.9v.9h-.9zM353.0,293.2h.9v.9h-.9zM347.2,288.1h.9v.9h-.9zM344.5,293.4h.9v.9h-.9zM371.7,297.1h.9v.9h-.9zM379.9,286.7h.9v.9h-.9zM367.5,295.7h.9v.9h-.9zM368.8,293.3h.9v.9h-.9zM377.7,289.7h.9v.9h-.9zM384.8,287.4h.9v.9h-.9zM376.6,289.6h.9v.9h-.9zM373.1,295.6h.9v.9h-.9zM373.3,287.7h.9v.9h-.9zM371.0,290.2h.9v.9h-.9zM378.6,290.4h.9v.9h-.9zM381.5,297.2h.9v.9h-.9zM369.6,298.3h.9v.9h-.9zM360.4,292.2h.9v.9h-.9zM363.2,310.8h.9v.9h-.9zM376.0,311.0h.9v.9h-.9zM368.1,314.2h.9v.9h-.9zM364.5,308.9h.9v.9h-.9zM374.9,312.6h.9v.9h-.9zM360.5,311.4h.9v.9h-.9zM373.8,310.6h.9v.9h-.9zM366.6,311.4h.9v.9h-.9zM370.4,309.3h.9v.9h-.9zM374.1,307.1h.9v.9h-.9zM368.6,316.4h.9v.9h-.9zM362.7,310.9h.9v.9h-.9zM362.1,311.2h.9v.9h-.9zM366.1,315.6h.9v.9h-.9zM363.5,311.0h.9v.9h-.9zM370.4,312.6h.9v.9h-.9zM374.5,307.1h.9v.9h-.9zM382.3,310.3h.9v.9h-.9zM364.7,306.9h.9v.9h-.9zM366.4,306.6h.9v.9h-.9zM370.2,309.5h.9v.9h-.9zM371.0,309.0h.9v.9h-.9zM369.5,316.6h.9v.9h-.9zM376.1,311.4h.9v.9h-.9zM363.1,314.7h.9v.9h-.9zM376.9,309.5h.9v.9h-.9zM377.2,312.5h.9v.9h-.9zM382.2,315.5h.9v.9h-.9zM372.6,309.4h.9v.9h-.9zM372.6,314.5h.9v.9h-.9zM412.6,281.5h.9v.9h-.9zM410.5,294.2h.9v.9h-.9zM411.8,294.3h.9v.9h-.9zM416.6,289.7h.9v.9h-.9zM413.8,286.1h.9v.9h-.9zM409.0,291.5h.9v.9h-.9zM409.2,299.1h.9v.9h-.9zM414.3,296.4h.9v.9h-.9zM412.8,292.5h.9v.9h-.9zM408.1,288.9h.9v.9h-.9zM435.5,286.3h.9v.9h-.9zM436.1,295.7h.9v.9h-.9zM441.3,298.7h.9v.9h-.9zM432.4,281.0h.9v.9h-.9z"/>
<path fill="#d23a2a" fill-opacity="0.55" d="M203.0,251.6h.9v.9h-.9zM211.2,247.2h.9v.9h-.9zM214.0,247.3h.9v.9h-.9zM215.5,247.3h.9v.9h-.9zM206.2,249.3h.9v.9h-.9zM202.8,247.7h.9v.9h-.9zM216.7,248.8h.9v.9h-.9zM203.0,247.5h.9v.9h-.9zM207.9,246.6h.9v.9h-.9zM209.9,250.3h.9v.9h-.9zM208.2,249.6h.9v.9h-.9zM209.3,248.3h.9v.9h-.9zM204.6,249.7h.9v.9h-.9zM214.1,247.2h.9v.9h-.9zM204.1,248.9h.9v.9h-.9zM208.5,250.0h.9v.9h-.9zM210.2,247.8h.9v.9h-.9zM201.8,249.1h.9v.9h-.9zM208.4,245.7h.9v.9h-.9zM201.3,244.7h.9v.9h-.9zM210.8,247.2h.9v.9h-.9zM205.1,247.8h.9v.9h-.9zM208.2,247.4h.9v.9h-.9zM211.3,249.8h.9v.9h-.9zM207.0,250.8h.9v.9h-.9zM207.4,246.4h.9v.9h-.9zM208.7,245.4h.9v.9h-.9zM206.6,246.1h.9v.9h-.9zM206.1,248.4h.9v.9h-.9zM196.9,248.7h.9v.9h-.9zM209.2,247.6h.9v.9h-.9zM211.2,248.6h.9v.9h-.9zM206.3,246.2h.9v.9h-.9zM211.3,249.4h.9v.9h-.9zM201.3,246.7h.9v.9h-.9zM202.7,249.5h.9v.9h-.9zM205.4,245.7h.9v.9h-.9zM214.8,248.8h.9v.9h-.9zM209.0,248.4h.9v.9h-.9zM207.2,248.1h.9v.9h-.9zM212.0,248.8h.9v.9h-.9zM205.9,248.2h.9v.9h-.9zM216.4,247.0h.9v.9h-.9zM202.0,248.2h.9v.9h-.9zM202.8,252.7h.9v.9h-.9zM210.8,249.0h.9v.9h-.9zM209.6,251.5h.9v.9h-.9zM203.4,247.9h.9v.9h-.9zM200.4,250.2h.9v.9h-.9zM207.6,251.2h.9v.9h-.9zM206.7,246.1h.9v.9h-.9zM204.8,249.4h.9v.9h-.9zM204.3,248.5h.9v.9h-.9zM204.7,246.7h.9v.9h-.9zM205.4,250.9h.9v.9h-.9zM203.1,248.6h.9v.9h-.9zM211.6,246.6h.9v.9h-.9zM201.2,250.7h.9v.9h-.9zM215.8,247.5h.9v.9h-.9zM202.5,249.6h.9v.9h-.9zM366.8,245.7h.9v.9h-.9zM365.4,243.1h.9v.9h-.9zM363.7,245.0h.9v.9h-.9zM361.7,247.9h.9v.9h-.9zM368.0,249.7h.9v.9h-.9zM363.6,249.1h.9v.9h-.9zM371.1,247.2h.9v.9h-.9zM367.3,245.8h.9v.9h-.9zM364.9,246.3h.9v.9h-.9zM369.9,250.3h.9v.9h-.9zM371.9,247.8h.9v.9h-.9zM370.3,244.3h.9v.9h-.9zM362.9,248.3h.9v.9h-.9zM365.4,244.4h.9v.9h-.9zM366.9,244.9h.9v.9h-.9zM366.9,249.5h.9v.9h-.9zM362.4,246.2h.9v.9h-.9zM369.2,246.9h.9v.9h-.9zM367.7,245.6h.9v.9h-.9zM365.6,243.1h.9v.9h-.9zM366.2,249.0h.9v.9h-.9zM362.4,246.7h.9v.9h-.9zM369.8,248.9h.9v.9h-.9zM371.6,245.5h.9v.9h-.9zM365.2,249.8h.9v.9h-.9zM365.0,247.4h.9v.9h-.9zM363.5,245.9h.9v.9h-.9zM362.9,249.2h.9v.9h-.9zM370.0,247.6h.9v.9h-.9zM364.8,244.7h.9v.9h-.9zM368.9,245.6h.9v.9h-.9zM366.4,248.5h.9v.9h-.9zM366.1,246.9h.9v.9h-.9zM362.9,248.7h.9v.9h-.9zM369.1,248.1h.9v.9h-.9zM373.5,244.3h.9v.9h-.9zM367.0,248.0h.9v.9h-.9zM368.3,247.5h.9v.9h-.9zM368.8,244.5h.9v.9h-.9zM366.6,248.8h.9v.9h-.9zM366.7,246.6h.9v.9h-.9zM370.3,244.1h.9v.9h-.9zM368.5,249.4h.9v.9h-.9zM365.9,245.6h.9v.9h-.9zM369.0,246.2h.9v.9h-.9zM363.6,247.2h.9v.9h-.9zM362.0,246.1h.9v.9h-.9zM369.8,246.9h.9v.9h-.9zM367.9,249.2h.9v.9h-.9zM373.1,250.3h.9v.9h-.9zM364.7,248.4h.9v.9h-.9zM372.2,245.8h.9v.9h-.9zM368.8,248.3h.9v.9h-.9zM366.2,245.9h.9v.9h-.9zM373.0,244.8h.9v.9h-.9zM367.6,248.5h.9v.9h-.9zM367.8,249.5h.9v.9h-.9zM372.9,247.7h.9v.9h-.9zM374.1,248.2h.9v.9h-.9zM361.9,246.4h.9v.9h-.9zM368.0,247.3h.9v.9h-.9zM360.6,245.1h.9v.9h-.9zM368.7,247.3h.9v.9h-.9zM373.1,247.3h.9v.9h-.9zM368.4,248.1h.9v.9h-.9zM363.9,244.9h.9v.9h-.9zM365.0,248.6h.9v.9h-.9zM365.8,249.0h.9v.9h-.9zM364.7,248.2h.9v.9h-.9zM367.0,248.3h.9v.9h-.9zM215.5,222.9h.9v.9h-.9zM211.4,228.2h.9v.9h-.9zM214.6,224.4h.9v.9h-.9zM220.2,217.4h.9v.9h-.9zM213.6,221.7h.9v.9h-.9zM222.5,216.5h.9v.9h-.9zM215.4,216.9h.9v.9h-.9zM217.5,216.5h.9v.9h-.9zM212.2,224.6h.9v.9h-.9zM212.7,221.9h.9v.9h-.9zM212.9,220.9h.9v.9h-.9zM222.6,211.7h.9v.9h-.9zM215.6,223.0h.9v.9h-.9zM215.2,223.2h.9v.9h-.9zM220.5,215.3h.9v.9h-.9zM214.0,225.2h.9v.9h-.9zM223.4,215.0h.9v.9h-.9zM217.6,215.0h.9v.9h-.9zM218.6,216.5h.9v.9h-.9zM211.1,225.8h.9v.9h-.9zM228.0,211.5h.9v.9h-.9zM223.3,217.3h.9v.9h-.9zM217.2,223.7h.9v.9h-.9zM220.3,220.9h.9v.9h-.9zM213.6,221.6h.9v.9h-.9zM220.6,217.4h.9v.9h-.9zM217.2,221.9h.9v.9h-.9zM216.5,222.0h.9v.9h-.9zM215.8,226.0h.9v.9h-.9zM216.0,220.1h.9v.9h-.9z"/>
<text class="b" x="68.8" y="7.1" font-size="8.65" text-anchor="middle">HIV-Negative 183</text>
<rect x="9" y="12.1" width="122.3" height="1.7" fill="#333"/>
<text x="75.0" y="24.8" font-size="7.9">Gated on CD4</text>
<rect x="9.3" y="30.5" width="56.2" height="56.5" fill="none" stroke="#7a7a7a" stroke-width="1"/>
<rect x="74.5" y="30.5" width="56.1" height="56.5" fill="none" stroke="#7a7a7a" stroke-width="1"/>
<path d="M9.3,87.0 L9.3,79.8 L13.2,79.8 L14.6,80.6 L16.2,83.0 L17.8,85.4 L20.0,86.2 L32.5,86.3 L34.0,84.5 L34.8,81.0 L35.6,72.0 L36.4,58.0 L37.2,48.5 L37.8,45.4 L38.5,48.5 L39.3,58.0 L40.2,72.0 L41.0,81.5 L42.0,85.2 L43.5,86.3 L65.5,86.5 L65.5,87.0 Z" fill="#000"/>
<path d="M31.4,37.0 H45.3 M31.4,34.6 V39.4 M45.3,34.6 V39.4" stroke="#555" stroke-width="1" fill="none"/>
<path d="M74.5,87.0 L74.7,86.4 L78.5,84.2 L80.5,81.6 L82.2,80.7 L84.0,81.2 L85.2,81.6 L88.2,80.1 L91.2,75.9 L93.5,69.9 L95.0,62.5 L96.5,55.0 L97.5,50.0 L98.1,48.0 L99.1,51.0 L100.2,59.5 L101.2,69.9 L102.4,77.4 L103.9,82.7 L106.2,85.7 L110.0,86.4 L130.6,86.5 L130.6,87.0 Z" fill="#000"/>
<path d="M91.8,37.0 H106.5 M91.8,34.6 V39.4 M106.5,34.6 V39.4" stroke="#555" stroke-width="1" fill="none"/>
<path d="M2.4,93.5 V73.2" stroke="#222" stroke-width="0.8" fill="none" marker-end="url(#ah)"/>
<path d="M2.4,93.5 H27.4" stroke="#222" stroke-width="0.8" fill="none" marker-end="url(#ah)"/>
<text x="31.0" y="96.0" font-size="6.7">CD4</text>
<text transform="translate(5.4,69.8) rotate(-90)" font-size="6.9">Counts</text>
<path d="M74.5,93.5 H90.5" stroke="#222" stroke-width="0.8" fill="none" marker-end="url(#ah)"/>
<text x="93.5" y="96.0" font-size="6.7">CCR7</text>
<text x="37.6" y="124.4" font-size="7.6" text-anchor="middle">Gated on</text>
<text x="14.4" y="131.8" font-size="7.6">CD4</text>
<text x="30.9" y="130.2" font-size="7">+</text>
<text x="34.4" y="131.8" font-size="7.6">CCR7</text>
<rect x="55.2" y="127.1" width="5.2" height="0.85" fill="#222"/>
<text x="102.8" y="124.4" font-size="7.6" text-anchor="middle">Gated on</text>
<text x="79.5" y="131.8" font-size="7.6">CD4</text>
<text x="96.0" y="130.2" font-size="7">+</text>
<text x="99.5" y="131.8" font-size="7.6">CCR7</text>
<text x="120.1" y="130.2" font-size="7">+</text>
<path fill="#5c70b8" fill-opacity="0.5" d="M24.1,182.8h.9v.9h-.9zM22.6,181.3h.9v.9h-.9zM16.5,177.0h.9v.9h-.9zM14.2,178.5h.9v.9h-.9zM23.1,181.6h.9v.9h-.9zM11.8,177.9h.9v.9h-.9zM23.3,183.1h.9v.9h-.9zM19.4,178.6h.9v.9h-.9zM20.1,178.5h.9v.9h-.9zM24.5,190.2h.9v.9h-.9zM23.9,190.7h.9v.9h-.9zM11.7,178.8h.9v.9h-.9zM19.4,178.4h.9v.9h-.9zM12.2,178.0h.9v.9h-.9zM24.2,189.5h.9v.9h-.9zM24.9,185.9h.9v.9h-.9zM20.1,178.3h.9v.9h-.9zM19.2,178.1h.9v.9h-.9zM12.4,178.2h.9v.9h-.9zM23.8,189.9h.9v.9h-.9zM12.6,178.6h.9v.9h-.9zM24.3,190.1h.9v.9h-.9zM24.3,188.1h.9v.9h-.9zM22.5,180.0h.9v.9h-.9zM15.0,178.0h.9v.9h-.9zM9.9,178.9h.9v.9h-.9zM24.3,186.5h.9v.9h-.9zM24.2,184.6h.9v.9h-.9zM17.4,177.8h.9v.9h-.9zM19.5,179.4h.9v.9h-.9zM18.4,178.8h.9v.9h-.9zM11.5,178.5h.9v.9h-.9zM17.2,178.2h.9v.9h-.9zM24.7,190.2h.9v.9h-.9zM11.3,178.7h.9v.9h-.9zM9.9,178.4h.9v.9h-.9zM24.0,185.9h.9v.9h-.9zM24.0,189.5h.9v.9h-.9zM24.1,187.4h.9v.9h-.9zM10.7,178.8h.9v.9h-.9zM11.3,178.6h.9v.9h-.9zM21.0,179.7h.9v.9h-.9zM13.6,177.9h.9v.9h-.9zM10.0,178.5h.9v.9h-.9zM17.1,178.6h.9v.9h-.9zM24.5,189.4h.9v.9h-.9zM10.9,176.8h.9v.9h-.9zM16.8,178.3h.9v.9h-.9zM10.0,178.4h.9v.9h-.9zM12.6,177.0h.9v.9h-.9zM24.0,191.5h.9v.9h-.9zM13.6,177.5h.9v.9h-.9zM23.7,191.9h.9v.9h-.9zM24.0,184.1h.9v.9h-.9zM18.8,177.1h.9v.9h-.9zM25.0,184.2h.9v.9h-.9zM24.4,191.7h.9v.9h-.9zM13.7,177.8h.9v.9h-.9zM17.8,177.9h.9v.9h-.9zM20.3,178.5h.9v.9h-.9zM14.2,178.4h.9v.9h-.9zM24.1,191.9h.9v.9h-.9zM11.5,178.0h.9v.9h-.9zM24.7,186.9h.9v.9h-.9zM17.0,178.9h.9v.9h-.9zM12.9,178.9h.9v.9h-.9zM10.3,177.6h.9v.9h-.9zM19.4,179.3h.9v.9h-.9zM19.1,178.6h.9v.9h-.9zM12.8,177.2h.9v.9h-.9zM14.3,178.3h.9v.9h-.9zM18.9,177.8h.9v.9h-.9zM24.3,189.5h.9v.9h-.9zM10.0,178.8h.9v.9h-.9zM15.4,178.3h.9v.9h-.9zM25.0,185.2h.9v.9h-.9zM14.3,178.7h.9v.9h-.9zM23.8,190.0h.9v.9h-.9zM18.3,178.5h.9v.9h-.9zM17.3,178.2h.9v.9h-.9zM10.3,178.4h.9v.9h-.9zM18.4,178.9h.9v.9h-.9zM18.3,178.7h.9v.9h-.9zM23.8,182.5h.9v.9h-.9zM24.8,191.1h.9v.9h-.9zM24.1,185.3h.9v.9h-.9zM14.4,178.7h.9v.9h-.9zM14.5,177.6h.9v.9h-.9zM14.8,178.0h.9v.9h-.9zM10.9,178.3h.9v.9h-.9z"/>
<path d="M9.5,193.6 L9.5,179.6 L11.2,179.0 L13.8,178.6 L17.0,178.6 L18.4,178.7 L19.7,179.1 L20.9,179.8 L21.9,180.7 L22.8,181.7 L23.5,182.9 L23.9,184.2 L24.0,185.6 L24.2,190.6 L24.0,193.6 Z" fill="#1f3687" filter="url(#sb)"/>
<path fill="#7a8fd0" fill-opacity="0.55" d="M17.3,188.3h1.5v.9h-1.5zM13.5,185.4h1.5v.9h-1.5z"/>
<path d="M31.5,137.0 V193.3 M9.3,174.0 H65.4" stroke="#9a9a9a" stroke-width="1.0" fill="none"/>
<rect x="9.3" y="137.0" width="56.1" height="56.3" fill="none" stroke="#888" stroke-width="1.1"/>
<text class="p" x="30.1" y="144.3" text-anchor="end">0%</text>
<text class="p" x="64.0" y="144.3" text-anchor="end">0%</text>
<text class="p" x="64.0" y="191.1" text-anchor="end">0.02%</text>
<path fill="#5c70b8" fill-opacity="0.5" d="M82.0,178.1h.9v.9h-.9zM91.0,189.5h.9v.9h-.9zM89.1,189.7h.9v.9h-.9zM88.9,183.8h.9v.9h-.9zM89.8,185.0h.9v.9h-.9zM76.3,178.1h.9v.9h-.9zM89.0,183.4h.9v.9h-.9zM83.0,177.7h.9v.9h-.9zM75.9,178.2h.9v.9h-.9zM89.1,189.9h.9v.9h-.9zM84.7,178.3h.9v.9h-.9zM89.4,186.4h.9v.9h-.9zM75.5,178.2h.9v.9h-.9zM89.6,183.9h.9v.9h-.9zM82.9,176.8h.9v.9h-.9zM89.9,191.3h.9v.9h-.9zM79.2,177.7h.9v.9h-.9zM88.7,191.7h.9v.9h-.9zM76.6,178.0h.9v.9h-.9zM79.2,177.7h.9v.9h-.9zM90.3,186.1h.9v.9h-.9zM89.0,188.2h.9v.9h-.9zM87.2,180.2h.9v.9h-.9zM89.2,188.8h.9v.9h-.9zM84.0,178.4h.9v.9h-.9zM90.0,185.9h.9v.9h-.9zM77.3,177.8h.9v.9h-.9zM83.8,178.5h.9v.9h-.9zM77.1,178.4h.9v.9h-.9zM85.3,178.6h.9v.9h-.9zM85.2,177.4h.9v.9h-.9zM88.7,190.4h.9v.9h-.9zM89.3,191.8h.9v.9h-.9zM89.0,190.3h.9v.9h-.9zM80.7,178.5h.9v.9h-.9zM82.1,177.5h.9v.9h-.9zM75.2,178.2h.9v.9h-.9zM80.8,177.2h.9v.9h-.9zM89.6,188.8h.9v.9h-.9zM89.6,180.8h.9v.9h-.9zM89.9,188.4h.9v.9h-.9zM88.9,188.0h.9v.9h-.9zM84.8,177.2h.9v.9h-.9zM89.3,191.5h.9v.9h-.9zM89.1,185.8h.9v.9h-.9zM89.3,181.9h.9v.9h-.9zM75.6,177.6h.9v.9h-.9zM87.4,180.5h.9v.9h-.9zM78.1,177.5h.9v.9h-.9zM86.8,179.6h.9v.9h-.9zM82.8,177.7h.9v.9h-.9zM84.3,177.7h.9v.9h-.9zM81.7,178.1h.9v.9h-.9zM84.7,178.3h.9v.9h-.9zM85.7,178.9h.9v.9h-.9zM75.5,177.8h.9v.9h-.9zM78.0,178.0h.9v.9h-.9zM80.3,178.4h.9v.9h-.9zM89.2,191.2h.9v.9h-.9zM89.8,182.2h.9v.9h-.9zM90.3,190.0h.9v.9h-.9zM89.3,191.7h.9v.9h-.9zM89.1,185.5h.9v.9h-.9zM88.0,180.9h.9v.9h-.9zM86.9,179.2h.9v.9h-.9zM78.7,178.0h.9v.9h-.9zM88.9,189.3h.9v.9h-.9zM89.0,181.8h.9v.9h-.9zM79.3,177.9h.9v.9h-.9zM75.3,177.3h.9v.9h-.9zM80.8,177.3h.9v.9h-.9zM87.2,179.8h.9v.9h-.9zM89.0,189.1h.9v.9h-.9zM81.8,177.2h.9v.9h-.9zM80.0,178.0h.9v.9h-.9zM89.3,180.3h.9v.9h-.9zM75.7,176.7h.9v.9h-.9zM83.7,177.6h.9v.9h-.9zM89.3,190.8h.9v.9h-.9zM86.2,179.0h.9v.9h-.9zM90.2,190.4h.9v.9h-.9zM88.9,183.7h.9v.9h-.9zM90.1,185.4h.9v.9h-.9zM87.6,180.4h.9v.9h-.9zM90.5,189.4h.9v.9h-.9zM78.5,177.9h.9v.9h-.9zM83.1,178.4h.9v.9h-.9zM82.0,178.1h.9v.9h-.9zM86.1,179.0h.9v.9h-.9zM82.9,178.0h.9v.9h-.9z"/>
<path d="M74.6,193.6 L74.6,179.2 L76.3,178.6 L78.9,178.2 L83.0,178.2 L84.2,178.3 L85.3,178.7 L86.3,179.2 L87.2,180.0 L88.0,180.9 L88.5,181.9 L88.9,183.0 L89.0,184.2 L89.2,190.6 L89.0,193.6 Z" fill="#1f3687" filter="url(#sb)"/>
<path fill="#7a8fd0" fill-opacity="0.55" d="M77.3,189.9h0.9v.9h-0.9zM77.5,184.2h1.2v.9h-1.2zM84.2,188.9h1.2v.9h-1.2zM75.6,185.6h0.9v.9h-0.9zM80.7,189.6h1.2v.9h-1.2zM78.6,183.7h1.5v.9h-1.5zM78.7,185.0h1.5v.9h-1.5zM85.8,190.5h1.5v.9h-1.5zM75.5,183.1h1.2v.9h-1.2zM84.7,184.4h0.9v.9h-0.9z"/>
<path d="M96.6,137.0 V193.3 M74.4,174.0 H130.6" stroke="#9a9a9a" stroke-width="1.0" fill="none"/>
<rect x="74.4" y="137.0" width="56.2" height="56.3" fill="none" stroke="#888" stroke-width="1.1"/>
<text class="p" x="95.2" y="144.3" text-anchor="end">0.02%</text>
<text class="p" x="129.2" y="144.3" text-anchor="end">0%</text>
<text class="p" x="129.2" y="191.1" text-anchor="end">0%</text>
<path fill="#5c70b8" fill-opacity="0.5" d="M22.1,243.8h.9v.9h-.9zM22.8,243.9h.9v.9h-.9zM14.8,243.3h.9v.9h-.9zM23.0,244.3h.9v.9h-.9zM24.2,245.7h.9v.9h-.9zM15.8,243.4h.9v.9h-.9zM13.4,243.6h.9v.9h-.9zM11.1,243.3h.9v.9h-.9zM20.8,243.4h.9v.9h-.9zM15.2,243.6h.9v.9h-.9zM24.9,246.3h.9v.9h-.9zM23.5,244.8h.9v.9h-.9zM19.7,243.6h.9v.9h-.9zM25.8,256.5h.9v.9h-.9zM24.0,244.7h.9v.9h-.9zM24.2,244.3h.9v.9h-.9zM24.9,255.1h.9v.9h-.9zM24.1,245.2h.9v.9h-.9zM25.7,251.4h.9v.9h-.9zM25.0,249.4h.9v.9h-.9zM24.1,244.1h.9v.9h-.9zM23.0,243.0h.9v.9h-.9zM25.3,254.9h.9v.9h-.9zM24.7,255.3h.9v.9h-.9zM18.9,242.4h.9v.9h-.9zM21.5,242.9h.9v.9h-.9zM23.1,243.3h.9v.9h-.9zM20.8,243.4h.9v.9h-.9zM25.4,250.5h.9v.9h-.9zM21.3,243.0h.9v.9h-.9zM15.1,242.7h.9v.9h-.9zM25.2,247.4h.9v.9h-.9zM26.1,250.0h.9v.9h-.9zM15.4,242.7h.9v.9h-.9zM25.4,247.7h.9v.9h-.9zM9.8,243.1h.9v.9h-.9zM20.3,243.2h.9v.9h-.9zM12.6,242.2h.9v.9h-.9zM12.9,243.2h.9v.9h-.9zM21.9,241.7h.9v.9h-.9zM24.9,255.0h.9v.9h-.9zM25.7,252.7h.9v.9h-.9zM13.7,242.3h.9v.9h-.9zM21.5,243.5h.9v.9h-.9zM24.9,257.1h.9v.9h-.9zM25.3,256.8h.9v.9h-.9zM25.7,253.3h.9v.9h-.9zM18.9,242.2h.9v.9h-.9zM24.8,248.4h.9v.9h-.9zM23.6,244.6h.9v.9h-.9zM25.7,254.4h.9v.9h-.9zM24.3,245.8h.9v.9h-.9zM21.0,243.4h.9v.9h-.9zM24.7,246.4h.9v.9h-.9zM18.2,243.3h.9v.9h-.9zM21.4,242.7h.9v.9h-.9zM12.5,243.1h.9v.9h-.9zM14.9,243.2h.9v.9h-.9zM20.7,242.4h.9v.9h-.9zM25.4,253.7h.9v.9h-.9zM23.0,243.6h.9v.9h-.9zM18.0,243.0h.9v.9h-.9zM18.1,242.8h.9v.9h-.9zM26.2,246.0h.9v.9h-.9zM25.7,252.3h.9v.9h-.9zM17.4,241.1h.9v.9h-.9zM23.2,243.6h.9v.9h-.9zM20.1,242.7h.9v.9h-.9zM25.8,246.6h.9v.9h-.9zM24.8,257.4h.9v.9h-.9zM9.7,242.9h.9v.9h-.9zM14.1,243.1h.9v.9h-.9zM25.3,254.5h.9v.9h-.9zM13.5,243.2h.9v.9h-.9zM15.0,242.7h.9v.9h-.9zM25.6,251.1h.9v.9h-.9zM25.1,250.0h.9v.9h-.9zM13.4,242.6h.9v.9h-.9zM25.0,252.9h.9v.9h-.9zM16.4,242.6h.9v.9h-.9zM20.0,243.2h.9v.9h-.9zM25.3,254.6h.9v.9h-.9zM20.9,242.6h.9v.9h-.9zM19.1,242.5h.9v.9h-.9zM26.3,249.3h.9v.9h-.9zM24.1,245.4h.9v.9h-.9zM24.6,243.8h.9v.9h-.9zM22.1,241.8h.9v.9h-.9zM12.9,242.4h.9v.9h-.9zM13.4,243.0h.9v.9h-.9z"/>
<path d="M9.5,259.1 L9.5,244.3 L11.4,243.7 L14.1,243.3 L20.5,243.3 L21.4,243.4 L22.2,243.6 L23.0,244.1 L23.7,244.6 L24.2,245.3 L24.7,246.1 L24.9,246.9 L25.0,247.8 L25.2,256.1 L25.0,259.1 Z" fill="#1f3687" filter="url(#sb)"/>
<path fill="#7a8fd0" fill-opacity="0.55" d="M17.9,248.6h1.5v.9h-1.5zM22.7,251.9h0.9v.9h-0.9z"/>
<path d="M31.5,202.2 V258.8 M9.3,239.2 H65.4" stroke="#9a9a9a" stroke-width="1.0" fill="none"/>
<rect x="9.3" y="202.2" width="56.1" height="56.6" fill="none" stroke="#888" stroke-width="1.1"/>
<text class="p" x="30.1" y="209.5" text-anchor="end">0.05%</text>
<text class="p" x="64.0" y="209.5" text-anchor="end">1.71%</text>
<text class="p" x="64.0" y="256.6" text-anchor="end">2.33%</text>
<path fill="#5c70b8" fill-opacity="0.5" d="M90.3,255.9h.9v.9h-.9zM81.9,243.6h.9v.9h-.9zM76.3,242.1h.9v.9h-.9zM89.4,244.6h.9v.9h-.9zM85.6,243.8h.9v.9h-.9zM90.0,253.0h.9v.9h-.9zM75.2,242.5h.9v.9h-.9zM89.9,248.0h.9v.9h-.9zM90.1,246.0h.9v.9h-.9zM84.2,242.9h.9v.9h-.9zM87.4,243.5h.9v.9h-.9zM85.6,243.3h.9v.9h-.9zM77.0,243.8h.9v.9h-.9zM86.6,243.0h.9v.9h-.9zM90.9,249.2h.9v.9h-.9zM75.3,243.8h.9v.9h-.9zM87.8,243.0h.9v.9h-.9zM77.4,242.3h.9v.9h-.9zM79.9,242.9h.9v.9h-.9zM86.4,243.7h.9v.9h-.9zM76.0,243.4h.9v.9h-.9zM82.2,242.9h.9v.9h-.9zM91.0,250.7h.9v.9h-.9zM90.0,247.3h.9v.9h-.9zM89.7,248.4h.9v.9h-.9zM90.2,256.8h.9v.9h-.9zM90.5,247.8h.9v.9h-.9zM78.3,243.6h.9v.9h-.9zM75.7,243.3h.9v.9h-.9zM77.2,243.3h.9v.9h-.9zM75.9,242.9h.9v.9h-.9zM85.5,243.0h.9v.9h-.9zM84.8,243.6h.9v.9h-.9zM79.5,243.2h.9v.9h-.9zM90.8,253.4h.9v.9h-.9zM89.7,248.2h.9v.9h-.9zM88.3,245.1h.9v.9h-.9zM81.5,243.3h.9v.9h-.9zM75.3,243.6h.9v.9h-.9zM86.2,243.0h.9v.9h-.9zM90.4,257.4h.9v.9h-.9zM83.6,243.3h.9v.9h-.9zM89.7,249.7h.9v.9h-.9zM84.6,243.8h.9v.9h-.9zM89.3,245.9h.9v.9h-.9zM76.3,243.8h.9v.9h-.9zM90.5,247.1h.9v.9h-.9zM78.4,242.6h.9v.9h-.9zM85.4,243.7h.9v.9h-.9zM89.5,247.2h.9v.9h-.9zM84.9,242.4h.9v.9h-.9zM90.6,250.5h.9v.9h-.9zM80.5,242.5h.9v.9h-.9zM90.2,251.2h.9v.9h-.9zM84.0,242.3h.9v.9h-.9zM91.5,256.8h.9v.9h-.9zM83.0,243.7h.9v.9h-.9zM89.9,253.1h.9v.9h-.9zM80.4,243.6h.9v.9h-.9zM79.8,243.8h.9v.9h-.9zM89.8,252.7h.9v.9h-.9zM75.4,242.1h.9v.9h-.9zM90.5,249.9h.9v.9h-.9zM75.5,243.5h.9v.9h-.9zM76.4,243.1h.9v.9h-.9zM90.2,254.0h.9v.9h-.9zM90.2,251.1h.9v.9h-.9zM89.9,253.8h.9v.9h-.9zM86.5,243.9h.9v.9h-.9zM85.1,243.7h.9v.9h-.9zM90.3,249.0h.9v.9h-.9zM88.0,244.5h.9v.9h-.9zM89.9,248.7h.9v.9h-.9zM84.6,243.3h.9v.9h-.9zM89.8,253.7h.9v.9h-.9zM82.3,243.8h.9v.9h-.9zM89.7,254.0h.9v.9h-.9zM84.0,243.2h.9v.9h-.9zM85.7,243.0h.9v.9h-.9zM86.4,242.9h.9v.9h-.9zM87.2,244.4h.9v.9h-.9zM75.2,242.6h.9v.9h-.9zM89.4,247.0h.9v.9h-.9zM84.0,243.5h.9v.9h-.9zM84.9,242.5h.9v.9h-.9zM91.3,257.3h.9v.9h-.9zM89.6,245.0h.9v.9h-.9zM79.4,243.4h.9v.9h-.9zM89.6,247.6h.9v.9h-.9zM87.1,243.0h.9v.9h-.9z"/>
<path d="M74.6,259.1 L74.6,244.6 L76.4,244.0 L79.2,243.6 L85.0,243.6 L86.0,243.7 L86.9,244.0 L87.8,244.4 L88.5,245.1 L89.2,245.8 L89.6,246.7 L89.9,247.6 L90.0,248.6 L90.2,256.1 L90.0,259.1 Z" fill="#1f3687" filter="url(#sb)"/>
<path fill="#7a8fd0" fill-opacity="0.55" d="M75.5,249.4h1.2v.9h-1.2zM76.9,255.2h1.2v.9h-1.2z"/>
<path d="M96.6,202.2 V258.8 M74.4,239.2 H130.6" stroke="#9a9a9a" stroke-width="1.0" fill="none"/>
<rect x="74.4" y="202.2" width="56.2" height="56.6" fill="none" stroke="#888" stroke-width="1.1"/>
<text class="p" x="95.2" y="209.5" text-anchor="end">0.06%</text>
<text class="p" x="129.2" y="209.5" text-anchor="end">0.03%</text>
<text class="p" x="129.2" y="256.6" text-anchor="end">0.02%</text>
<path d="M2.3,265.2 V245.4" stroke="#222" stroke-width="0.8" fill="none" marker-end="url(#ah)"/>
<path d="M2.3,265.2 H27.3" stroke="#222" stroke-width="0.8" fill="none" marker-end="url(#ah)"/>
<text x="31.3" y="267.4" font-size="6.5">IFN-γ</text>
<text transform="translate(5.3,240.8) rotate(-90)" font-size="6.5">IL-2</text>
<text class="b" x="232.6" y="7.1" font-size="8.65" text-anchor="middle">LTNP 2073</text>
<rect x="172.6" y="12.1" width="121.7" height="1.7" fill="#333"/>
<text x="239.1" y="24.8" font-size="7.9">Gated on CD4</text>
<rect x="172.9" y="31.0" width="56.5" height="56.6" fill="none" stroke="#7a7a7a" stroke-width="1"/>
<rect x="238.6" y="31.0" width="56.3" height="56.6" fill="none" stroke="#7a7a7a" stroke-width="1"/>
<path d="M172.9,87.6 L172.9,52.5 L174.6,48.0 L176.4,43.5 L177.6,41.0 L178.6,40.0 L179.5,41.2 L180.2,43.8 L180.9,49.8 L181.8,58.7 L182.7,67.7 L183.6,76.7 L184.5,82.1 L186.3,85.7 L190.8,86.0 L194.4,84.8 L197.0,82.1 L198.3,76.7 L199.4,65.9 L200.3,55.1 L200.8,50.5 L201.3,48.8 L202.1,52.4 L203.0,65.9 L203.7,76.7 L204.4,83.9 L205.5,86.0 L229.4,86.6 L229.4,87.6 Z" fill="#000"/>
<path d="M195.2,37.5 H208.8 M195.2,35.1 V39.9 M208.8,35.1 V39.9" stroke="#555" stroke-width="1" fill="none"/>
<path d="M238.6,87.6 L238.8,85.7 L241.5,83.0 L243.8,79.4 L245.2,77.0 L246.2,76.2 L247.4,77.1 L249.2,80.3 L251.0,81.2 L253.2,78.5 L255.0,77.1 L257.1,76.3 L258.9,73.1 L260.4,67.7 L261.8,58.7 L263.0,50.7 L263.8,46.0 L264.3,44.4 L264.9,46.5 L265.4,49.8 L266.3,58.7 L267.2,69.5 L268.3,77.6 L269.3,82.1 L272.0,84.8 L276.5,86.0 L294.9,86.6 L294.9,87.6 Z" fill="#000"/>
<path d="M256.4,37.8 H270.6 M256.4,35.4 V40.199999999999996 M270.6,35.4 V40.199999999999996" stroke="#555" stroke-width="1" fill="none"/>
<path d="M167.0,93.3 V74.1" stroke="#222" stroke-width="0.8" fill="none" marker-end="url(#ah)"/>
<path d="M167.0,93.3 H192.0" stroke="#222" stroke-width="0.8" fill="none" marker-end="url(#ah)"/>
<text x="195.6" y="96.0" font-size="6.7">CD4</text>
<text transform="translate(170.0,69.8) rotate(-90)" font-size="6.9">Counts</text>
<path d="M238.6,93.3 H254.6" stroke="#222" stroke-width="0.8" fill="none" marker-end="url(#ah)"/>
<text x="257.6" y="96.0" font-size="6.7">CCR7</text>
<text x="201.4" y="124.4" font-size="7.6" text-anchor="middle">Gated on</text>
<text x="178.1" y="131.8" font-size="7.6">CD4</text>
<text x="194.6" y="130.2" font-size="7">+</text>
<text x="198.1" y="131.8" font-size="7.6">CCR7</text>
<rect x="218.9" y="127.1" width="5.2" height="0.85" fill="#222"/>
<text x="267.3" y="124.4" font-size="7.6" text-anchor="middle">Gated on</text>
<text x="244.0" y="131.8" font-size="7.6">CD4</text>
<text x="260.5" y="130.2" font-size="7">+</text>
<text x="264.0" y="131.8" font-size="7.6">CCR7</text>
<text x="284.6" y="130.2" font-size="7">+</text>
<path fill="#5c70b8" fill-opacity="0.5" d="M187.9,181.1h.9v.9h-.9zM187.1,180.3h.9v.9h-.9zM183.7,178.4h.9v.9h-.9zM188.4,186.2h.9v.9h-.9zM184.6,178.3h.9v.9h-.9zM187.8,184.5h.9v.9h-.9zM175.5,179.0h.9v.9h-.9zM179.4,178.5h.9v.9h-.9zM180.6,178.3h.9v.9h-.9zM180.4,178.1h.9v.9h-.9zM175.7,177.8h.9v.9h-.9zM187.0,180.8h.9v.9h-.9zM188.5,190.0h.9v.9h-.9zM177.6,178.3h.9v.9h-.9zM175.4,179.0h.9v.9h-.9zM189.1,191.8h.9v.9h-.9zM177.7,177.8h.9v.9h-.9zM173.4,179.1h.9v.9h-.9zM187.7,182.1h.9v.9h-.9zM182.0,177.9h.9v.9h-.9zM187.7,181.1h.9v.9h-.9zM183.8,178.3h.9v.9h-.9zM188.0,183.6h.9v.9h-.9zM175.2,178.2h.9v.9h-.9zM188.0,182.9h.9v.9h-.9zM181.6,178.7h.9v.9h-.9zM174.2,176.1h.9v.9h-.9zM188.0,183.8h.9v.9h-.9zM188.5,189.0h.9v.9h-.9zM175.1,178.6h.9v.9h-.9zM174.5,177.4h.9v.9h-.9zM186.6,179.8h.9v.9h-.9zM185.4,179.4h.9v.9h-.9zM188.9,188.7h.9v.9h-.9zM173.7,177.4h.9v.9h-.9zM186.6,180.0h.9v.9h-.9zM178.4,178.7h.9v.9h-.9zM180.3,178.5h.9v.9h-.9zM182.6,178.4h.9v.9h-.9zM188.4,185.7h.9v.9h-.9zM188.5,185.9h.9v.9h-.9zM186.1,180.0h.9v.9h-.9zM184.9,179.4h.9v.9h-.9zM189.5,187.4h.9v.9h-.9zM179.7,178.1h.9v.9h-.9zM188.2,183.4h.9v.9h-.9zM183.2,176.9h.9v.9h-.9zM182.9,177.6h.9v.9h-.9zM179.0,178.5h.9v.9h-.9zM187.8,184.0h.9v.9h-.9zM176.9,178.8h.9v.9h-.9zM184.6,179.1h.9v.9h-.9zM188.4,183.0h.9v.9h-.9zM185.1,178.5h.9v.9h-.9zM184.1,178.7h.9v.9h-.9zM175.6,179.0h.9v.9h-.9zM180.1,178.9h.9v.9h-.9zM176.0,178.4h.9v.9h-.9zM175.9,177.7h.9v.9h-.9zM186.8,180.9h.9v.9h-.9zM188.5,191.9h.9v.9h-.9zM179.2,179.1h.9v.9h-.9zM174.4,178.0h.9v.9h-.9zM174.2,178.4h.9v.9h-.9zM187.6,182.0h.9v.9h-.9zM174.9,178.4h.9v.9h-.9zM186.8,179.2h.9v.9h-.9zM187.2,181.7h.9v.9h-.9zM187.9,190.1h.9v.9h-.9zM174.7,178.4h.9v.9h-.9zM185.2,179.1h.9v.9h-.9zM188.8,187.3h.9v.9h-.9zM188.6,190.0h.9v.9h-.9zM177.9,178.8h.9v.9h-.9zM181.3,178.0h.9v.9h-.9zM179.4,177.4h.9v.9h-.9zM173.3,177.9h.9v.9h-.9zM179.2,178.1h.9v.9h-.9zM178.0,179.0h.9v.9h-.9zM180.2,178.4h.9v.9h-.9zM182.4,178.7h.9v.9h-.9zM183.9,178.3h.9v.9h-.9zM184.4,179.1h.9v.9h-.9zM181.9,178.3h.9v.9h-.9zM175.8,178.8h.9v.9h-.9zM173.5,178.8h.9v.9h-.9zM188.5,183.9h.9v.9h-.9zM187.2,181.3h.9v.9h-.9zM176.0,179.1h.9v.9h-.9zM188.0,190.0h.9v.9h-.9z"/>
<path d="M173.1,193.5 L173.1,179.8 L174.9,179.2 L177.6,178.8 L183.0,178.8 L184.0,178.9 L184.9,179.2 L185.8,179.6 L186.5,180.3 L187.2,181.0 L187.6,181.9 L187.9,182.8 L188.0,183.8 L188.2,190.5 L188.0,193.5 Z" fill="#1f3687" filter="url(#sb)"/>
<path fill="#7a8fd0" fill-opacity="0.55" d="M176.5,186.1h1.5v.9h-1.5zM181.1,186.3h0.9v.9h-0.9zM176.4,189.3h1.2v.9h-1.2zM180.1,187.2h1.2v.9h-1.2zM178.8,187.7h1.5v.9h-1.5zM181.6,184.9h1.5v.9h-1.5zM178.1,182.3h0.9v.9h-0.9zM183.9,189.4h1.5v.9h-1.5zM184.8,186.3h1.5v.9h-1.5zM174.9,188.0h0.9v.9h-0.9zM181.5,181.7h1.2v.9h-1.2zM181.1,185.1h0.9v.9h-0.9zM175.7,191.0h0.9v.9h-0.9zM177.5,185.4h1.2v.9h-1.2zM180.7,191.0h0.9v.9h-0.9zM183.1,189.8h1.5v.9h-1.5zM180.8,184.8h1.5v.9h-1.5zM179.1,187.9h1.2v.9h-1.2zM176.2,183.1h0.9v.9h-0.9zM180.5,186.2h1.2v.9h-1.2zM177.1,189.8h1.5v.9h-1.5zM179.5,191.6h0.9v.9h-0.9zM174.5,192.2h0.9v.9h-0.9zM173.8,190.7h0.9v.9h-0.9zM185.3,184.1h1.5v.9h-1.5zM182.0,190.0h0.9v.9h-0.9zM184.8,191.0h1.2v.9h-1.2zM176.4,183.9h1.5v.9h-1.5zM177.2,188.1h0.9v.9h-0.9zM179.2,189.3h1.5v.9h-1.5zM181.1,187.9h1.5v.9h-1.5zM178.8,191.4h1.5v.9h-1.5zM174.5,186.9h0.9v.9h-0.9zM180.1,189.1h0.9v.9h-0.9zM181.0,191.6h1.5v.9h-1.5zM179.7,192.1h1.2v.9h-1.2zM179.4,182.3h1.5v.9h-1.5zM181.4,190.4h1.5v.9h-1.5zM176.9,187.0h0.9v.9h-0.9zM179.4,184.2h1.5v.9h-1.5zM178.8,189.1h0.9v.9h-0.9zM175.1,180.1h1.5v.9h-1.5zM179.2,188.5h0.9v.9h-0.9zM181.1,188.0h1.2v.9h-1.2zM182.0,192.1h1.5v.9h-1.5zM185.4,188.3h0.9v.9h-0.9zM174.7,181.2h1.2v.9h-1.2zM178.4,184.5h1.2v.9h-1.2zM177.4,182.8h0.9v.9h-0.9zM178.6,181.0h1.2v.9h-1.2zM176.9,182.0h0.9v.9h-0.9zM184.5,188.5h1.2v.9h-1.2zM184.9,191.3h1.2v.9h-1.2zM175.7,185.5h0.9v.9h-0.9zM178.1,183.9h1.5v.9h-1.5zM178.1,191.8h1.2v.9h-1.2zM174.5,185.0h1.2v.9h-1.2zM182.6,180.4h0.9v.9h-0.9zM175.4,188.1h0.9v.9h-0.9zM182.1,181.7h1.5v.9h-1.5zM185.5,185.4h1.2v.9h-1.2zM180.1,190.4h1.2v.9h-1.2zM177.9,182.8h1.5v.9h-1.5zM182.8,188.0h0.9v.9h-0.9zM183.8,187.6h1.2v.9h-1.2zM183.8,188.6h0.9v.9h-0.9zM181.3,187.6h1.2v.9h-1.2z"/>
<path d="M195.1,137.1 V193.2 M172.9,174.1 H229.3" stroke="#9a9a9a" stroke-width="1.0" fill="none"/>
<rect x="172.9" y="137.1" width="56.4" height="56.1" fill="none" stroke="#888" stroke-width="1.1"/>
<text class="p" x="192.9" y="144.4" text-anchor="end">0%</text>
<text class="p" x="227.1" y="144.4" text-anchor="end">0%</text>
<text class="p" x="227.1" y="191.0" text-anchor="end">0%</text>
<path fill="#5c70b8" fill-opacity="0.5" d="M240.4,178.6h.9v.9h-.9zM245.3,178.2h.9v.9h-.9zM253.4,189.4h.9v.9h-.9zM240.7,178.6h.9v.9h-.9zM245.1,178.4h.9v.9h-.9zM252.4,178.3h.9v.9h-.9zM249.0,178.5h.9v.9h-.9zM244.2,178.1h.9v.9h-.9zM253.4,182.2h.9v.9h-.9zM253.5,191.9h.9v.9h-.9zM252.1,179.8h.9v.9h-.9zM246.8,177.7h.9v.9h-.9zM242.6,178.8h.9v.9h-.9zM248.2,178.7h.9v.9h-.9zM245.3,178.5h.9v.9h-.9zM243.7,177.4h.9v.9h-.9zM250.6,178.7h.9v.9h-.9zM253.3,187.7h.9v.9h-.9zM254.5,183.6h.9v.9h-.9zM246.4,178.6h.9v.9h-.9zM246.9,178.4h.9v.9h-.9zM244.9,178.2h.9v.9h-.9zM241.9,178.6h.9v.9h-.9zM250.5,179.0h.9v.9h-.9zM247.9,177.7h.9v.9h-.9zM253.2,191.6h.9v.9h-.9zM239.3,177.7h.9v.9h-.9zM242.3,178.0h.9v.9h-.9zM252.3,179.9h.9v.9h-.9zM250.2,177.2h.9v.9h-.9zM252.9,179.1h.9v.9h-.9zM252.1,179.2h.9v.9h-.9zM245.2,178.4h.9v.9h-.9zM246.4,177.4h.9v.9h-.9zM253.5,191.5h.9v.9h-.9zM245.2,178.4h.9v.9h-.9zM241.3,178.5h.9v.9h-.9zM239.5,178.3h.9v.9h-.9zM253.5,182.3h.9v.9h-.9zM244.5,178.3h.9v.9h-.9zM253.8,189.5h.9v.9h-.9zM251.6,178.6h.9v.9h-.9zM246.3,178.7h.9v.9h-.9zM248.0,177.4h.9v.9h-.9zM246.7,178.5h.9v.9h-.9zM243.4,177.7h.9v.9h-.9zM251.9,179.5h.9v.9h-.9zM253.4,188.5h.9v.9h-.9zM249.2,177.4h.9v.9h-.9zM251.0,178.3h.9v.9h-.9zM253.8,185.6h.9v.9h-.9zM253.2,182.9h.9v.9h-.9zM242.2,178.7h.9v.9h-.9zM249.3,177.4h.9v.9h-.9zM254.2,183.4h.9v.9h-.9zM253.2,180.3h.9v.9h-.9zM253.3,191.7h.9v.9h-.9zM244.4,177.8h.9v.9h-.9zM253.5,182.2h.9v.9h-.9zM249.8,177.7h.9v.9h-.9zM253.3,188.2h.9v.9h-.9zM253.4,182.4h.9v.9h-.9zM250.5,178.8h.9v.9h-.9zM252.8,178.6h.9v.9h-.9zM247.9,178.8h.9v.9h-.9zM251.7,178.6h.9v.9h-.9zM249.1,178.5h.9v.9h-.9zM254.7,183.2h.9v.9h-.9zM249.0,178.2h.9v.9h-.9zM239.2,178.7h.9v.9h-.9zM246.3,178.7h.9v.9h-.9zM252.3,180.1h.9v.9h-.9zM242.7,177.9h.9v.9h-.9zM240.9,178.5h.9v.9h-.9zM247.2,178.1h.9v.9h-.9zM246.3,178.0h.9v.9h-.9zM246.2,178.9h.9v.9h-.9zM253.6,181.3h.9v.9h-.9zM255.1,180.7h.9v.9h-.9zM242.2,177.5h.9v.9h-.9zM250.1,178.6h.9v.9h-.9zM251.8,179.2h.9v.9h-.9zM253.6,185.8h.9v.9h-.9zM239.6,177.9h.9v.9h-.9zM239.1,178.4h.9v.9h-.9zM253.7,186.1h.9v.9h-.9zM255.5,183.3h.9v.9h-.9zM246.8,178.2h.9v.9h-.9zM247.2,178.2h.9v.9h-.9zM239.9,178.5h.9v.9h-.9z"/>
<path d="M238.9,193.5 L238.9,179.6 L240.7,179.0 L243.3,178.6 L249.5,178.6 L250.3,178.7 L251.0,178.9 L251.7,179.3 L252.3,179.8 L252.8,180.4 L253.2,181.1 L253.4,181.8 L253.5,182.6 L253.7,190.5 L253.5,193.5 Z" fill="#1f3687" filter="url(#sb)"/>
<path fill="#7a8fd0" fill-opacity="0.55" d="M240.4,189.5h1.5v.9h-1.5zM250.5,186.3h0.9v.9h-0.9zM242.9,181.1h0.9v.9h-0.9zM248.9,187.6h1.5v.9h-1.5zM249.9,187.1h1.5v.9h-1.5zM240.4,185.0h1.2v.9h-1.2zM248.1,187.4h1.2v.9h-1.2zM248.6,181.1h0.9v.9h-0.9zM245.1,184.9h0.9v.9h-0.9zM246.6,187.0h1.2v.9h-1.2zM241.2,189.5h1.5v.9h-1.5zM247.8,184.3h1.5v.9h-1.5zM245.2,189.0h0.9v.9h-0.9zM244.5,184.0h1.5v.9h-1.5zM246.9,182.1h1.2v.9h-1.2zM241.1,188.8h1.2v.9h-1.2zM240.2,181.3h1.5v.9h-1.5zM247.9,187.0h1.2v.9h-1.2zM246.5,183.5h1.5v.9h-1.5zM250.4,185.7h1.5v.9h-1.5zM244.8,181.8h1.2v.9h-1.2zM247.2,185.0h1.5v.9h-1.5zM244.4,180.5h1.2v.9h-1.2zM241.6,187.3h1.2v.9h-1.2zM241.6,186.5h1.5v.9h-1.5zM247.0,186.8h0.9v.9h-0.9zM246.7,182.6h0.9v.9h-0.9zM246.0,181.3h1.2v.9h-1.2zM249.2,190.4h0.9v.9h-0.9z"/>
<path d="M260.9,137.1 V193.2 M238.7,174.1 H295.3" stroke="#9a9a9a" stroke-width="1.0" fill="none"/>
<rect x="238.7" y="137.1" width="56.6" height="56.1" fill="none" stroke="#888" stroke-width="1.1"/>
<text class="p" x="258.7" y="144.4" text-anchor="end">0.02%</text>
<text class="p" x="293.1" y="144.4" text-anchor="end">0%</text>
<text class="p" x="293.1" y="191.0" text-anchor="end">0%</text>
<path fill="#5c70b8" fill-opacity="0.5" d="M190.7,251.6h.9v.9h-.9zM187.8,241.3h.9v.9h-.9zM177.6,241.6h.9v.9h-.9zM183.2,242.2h.9v.9h-.9zM181.0,242.1h.9v.9h-.9zM189.8,242.1h.9v.9h-.9zM186.2,241.6h.9v.9h-.9zM173.3,240.9h.9v.9h-.9zM189.7,242.5h.9v.9h-.9zM188.7,241.0h.9v.9h-.9zM175.0,241.6h.9v.9h-.9zM175.2,241.9h.9v.9h-.9zM190.6,248.8h.9v.9h-.9zM180.6,241.4h.9v.9h-.9zM191.3,246.6h.9v.9h-.9zM180.5,242.0h.9v.9h-.9zM185.8,240.5h.9v.9h-.9zM190.5,250.9h.9v.9h-.9zM174.2,241.6h.9v.9h-.9zM188.5,242.4h.9v.9h-.9zM175.9,241.5h.9v.9h-.9zM190.2,251.5h.9v.9h-.9zM189.7,241.8h.9v.9h-.9zM181.6,240.6h.9v.9h-.9zM182.9,242.0h.9v.9h-.9zM183.9,241.8h.9v.9h-.9zM190.3,251.1h.9v.9h-.9zM192.0,257.0h.9v.9h-.9zM191.1,252.7h.9v.9h-.9zM190.4,252.7h.9v.9h-.9zM190.5,256.4h.9v.9h-.9zM190.2,243.2h.9v.9h-.9zM173.6,241.9h.9v.9h-.9zM181.0,242.1h.9v.9h-.9zM181.3,242.0h.9v.9h-.9zM190.7,249.0h.9v.9h-.9zM177.9,240.8h.9v.9h-.9zM190.4,248.7h.9v.9h-.9zM187.8,241.7h.9v.9h-.9zM180.3,241.7h.9v.9h-.9zM177.4,242.1h.9v.9h-.9zM183.4,242.1h.9v.9h-.9zM182.6,242.3h.9v.9h-.9zM191.3,246.9h.9v.9h-.9zM191.3,255.3h.9v.9h-.9zM190.3,256.1h.9v.9h-.9zM188.6,242.3h.9v.9h-.9zM181.5,242.3h.9v.9h-.9zM190.5,243.4h.9v.9h-.9zM190.6,245.8h.9v.9h-.9zM182.3,241.2h.9v.9h-.9zM174.2,241.8h.9v.9h-.9zM192.6,251.7h.9v.9h-.9zM188.8,240.7h.9v.9h-.9zM191.2,247.0h.9v.9h-.9zM188.9,241.2h.9v.9h-.9zM173.4,240.0h.9v.9h-.9zM190.3,253.4h.9v.9h-.9zM176.7,241.9h.9v.9h-.9zM174.9,242.1h.9v.9h-.9zM190.8,240.5h.9v.9h-.9zM181.4,242.1h.9v.9h-.9zM180.1,241.4h.9v.9h-.9zM190.8,250.2h.9v.9h-.9zM190.9,255.2h.9v.9h-.9zM173.6,242.3h.9v.9h-.9zM182.7,241.0h.9v.9h-.9zM176.5,242.2h.9v.9h-.9zM190.7,248.3h.9v.9h-.9zM188.7,241.6h.9v.9h-.9zM178.5,242.1h.9v.9h-.9zM176.6,242.3h.9v.9h-.9zM190.9,247.0h.9v.9h-.9zM191.6,245.1h.9v.9h-.9zM179.1,241.1h.9v.9h-.9zM186.9,242.2h.9v.9h-.9zM176.0,240.3h.9v.9h-.9zM178.2,241.6h.9v.9h-.9zM189.8,241.9h.9v.9h-.9zM182.6,242.2h.9v.9h-.9zM184.8,242.1h.9v.9h-.9zM175.1,241.6h.9v.9h-.9zM188.1,242.3h.9v.9h-.9zM190.3,243.9h.9v.9h-.9zM188.8,242.2h.9v.9h-.9zM183.0,242.1h.9v.9h-.9zM187.9,242.2h.9v.9h-.9zM190.2,253.5h.9v.9h-.9zM190.5,253.6h.9v.9h-.9zM190.9,253.9h.9v.9h-.9z"/>
<path d="M173.1,259.6 L173.1,243.0 L175.2,242.4 L178.3,242.0 L187.5,242.0 L188.1,242.1 L188.6,242.2 L189.2,242.5 L189.6,242.9 L190.0,243.3 L190.3,243.9 L190.4,244.4 L190.5,245.0 L190.7,256.6 L190.5,259.6 Z" fill="#1f3687" filter="url(#sb)"/>
<path fill="#7a8fd0" fill-opacity="0.55" d="M178.3,254.4h1.2v.9h-1.2zM180.9,251.1h1.5v.9h-1.5zM186.0,249.0h0.9v.9h-0.9zM176.2,248.3h1.2v.9h-1.2zM184.5,255.0h1.5v.9h-1.5zM173.6,257.8h1.2v.9h-1.2zM175.6,257.9h1.2v.9h-1.2zM186.9,249.2h1.5v.9h-1.5zM182.9,250.7h1.5v.9h-1.5zM178.6,255.2h1.2v.9h-1.2zM188.4,246.9h1.5v.9h-1.5zM174.8,257.0h1.5v.9h-1.5zM188.4,248.4h1.5v.9h-1.5zM186.8,245.0h1.5v.9h-1.5zM187.9,248.4h1.2v.9h-1.2z"/>
<path d="M195.1,201.9 V259.3 M172.9,238.9 H229.3" stroke="#9a9a9a" stroke-width="1.0" fill="none"/>
<rect x="172.9" y="201.9" width="56.4" height="57.4" fill="none" stroke="#888" stroke-width="1.1"/>
<text class="p" x="192.9" y="209.2" text-anchor="end">0.14%</text>
<text class="p" x="227.1" y="209.2" text-anchor="end">2.04%</text>
<text class="p" x="227.1" y="257.1" text-anchor="end">2.63%</text>
<path fill="#5c70b8" fill-opacity="0.5" d="M254.7,242.3h.9v.9h-.9zM256.1,255.3h.9v.9h-.9zM256.8,254.3h.9v.9h-.9zM239.3,242.2h.9v.9h-.9zM256.0,249.6h.9v.9h-.9zM251.4,241.3h.9v.9h-.9zM246.0,242.5h.9v.9h-.9zM257.1,253.4h.9v.9h-.9zM256.0,249.1h.9v.9h-.9zM250.5,241.8h.9v.9h-.9zM257.2,257.7h.9v.9h-.9zM256.3,243.9h.9v.9h-.9zM240.6,241.8h.9v.9h-.9zM256.3,250.1h.9v.9h-.9zM244.1,241.7h.9v.9h-.9zM256.2,253.4h.9v.9h-.9zM249.5,242.5h.9v.9h-.9zM255.1,243.3h.9v.9h-.9zM253.4,241.1h.9v.9h-.9zM251.1,241.7h.9v.9h-.9zM243.5,242.2h.9v.9h-.9zM256.5,246.6h.9v.9h-.9zM255.6,244.2h.9v.9h-.9zM248.5,241.9h.9v.9h-.9zM248.3,242.2h.9v.9h-.9zM239.6,241.6h.9v.9h-.9zM254.0,242.4h.9v.9h-.9zM254.2,242.4h.9v.9h-.9zM252.4,241.6h.9v.9h-.9zM256.3,252.8h.9v.9h-.9zM256.1,250.2h.9v.9h-.9zM256.3,257.3h.9v.9h-.9zM253.5,242.2h.9v.9h-.9zM242.5,242.1h.9v.9h-.9zM256.4,244.9h.9v.9h-.9zM242.1,241.6h.9v.9h-.9zM246.1,241.3h.9v.9h-.9zM257.2,247.7h.9v.9h-.9zM250.1,242.5h.9v.9h-.9zM255.9,243.6h.9v.9h-.9zM244.7,241.0h.9v.9h-.9zM254.2,240.7h.9v.9h-.9zM255.5,243.7h.9v.9h-.9zM243.2,241.7h.9v.9h-.9zM240.3,242.5h.9v.9h-.9zM246.7,241.3h.9v.9h-.9zM256.0,254.7h.9v.9h-.9zM246.8,241.4h.9v.9h-.9zM240.8,242.5h.9v.9h-.9zM244.3,242.7h.9v.9h-.9zM240.8,242.6h.9v.9h-.9zM256.1,257.8h.9v.9h-.9zM256.1,256.5h.9v.9h-.9zM241.3,242.2h.9v.9h-.9zM257.6,244.3h.9v.9h-.9zM250.2,242.2h.9v.9h-.9zM257.6,255.0h.9v.9h-.9zM257.1,254.2h.9v.9h-.9zM247.7,240.8h.9v.9h-.9zM245.8,241.8h.9v.9h-.9zM256.0,257.2h.9v.9h-.9zM256.7,248.2h.9v.9h-.9zM255.8,245.1h.9v.9h-.9zM251.9,242.6h.9v.9h-.9zM242.3,242.4h.9v.9h-.9zM256.2,244.3h.9v.9h-.9zM254.3,242.6h.9v.9h-.9zM251.1,242.5h.9v.9h-.9zM256.3,242.4h.9v.9h-.9zM255.7,244.6h.9v.9h-.9zM256.3,244.5h.9v.9h-.9zM239.5,241.1h.9v.9h-.9zM255.9,244.7h.9v.9h-.9zM256.2,247.5h.9v.9h-.9zM241.4,242.0h.9v.9h-.9zM256.8,248.1h.9v.9h-.9zM256.1,254.2h.9v.9h-.9zM255.8,245.0h.9v.9h-.9zM251.9,242.1h.9v.9h-.9zM252.8,242.4h.9v.9h-.9zM250.0,242.6h.9v.9h-.9zM255.8,249.5h.9v.9h-.9zM255.9,244.7h.9v.9h-.9zM251.2,242.5h.9v.9h-.9zM251.4,242.4h.9v.9h-.9zM239.3,242.1h.9v.9h-.9zM252.1,241.4h.9v.9h-.9zM250.3,241.6h.9v.9h-.9zM240.1,242.6h.9v.9h-.9zM245.4,241.4h.9v.9h-.9z"/>
<path d="M238.9,259.6 L238.9,243.4 L241.0,242.8 L244.0,242.4 L253.0,242.4 L253.6,242.5 L254.1,242.6 L254.7,242.9 L255.1,243.3 L255.5,243.7 L255.8,244.3 L255.9,244.8 L256.0,245.4 L256.2,256.6 L256.0,259.6 Z" fill="#1f3687" filter="url(#sb)"/>
<path fill="#7a8fd0" fill-opacity="0.55" d="M246.1,251.7h1.5v.9h-1.5zM244.0,257.9h1.2v.9h-1.2z"/>
<path d="M260.9,201.9 V259.3 M238.7,238.9 H295.3" stroke="#9a9a9a" stroke-width="1.0" fill="none"/>
<rect x="238.7" y="201.9" width="56.6" height="57.4" fill="none" stroke="#888" stroke-width="1.1"/>
<text class="p" x="258.7" y="209.2" text-anchor="end">0.06%</text>
<text class="p" x="293.1" y="209.2" text-anchor="end">0.01%</text>
<text class="p" x="293.1" y="257.1" text-anchor="end">0.02%</text>
<path fill="#5c70b8" fill-opacity="0.5" d="M191.4,311.9h.9v.9h-.9zM188.9,306.8h.9v.9h-.9zM184.7,305.6h.9v.9h-.9zM185.5,305.7h.9v.9h-.9zM191.6,308.0h.9v.9h-.9zM191.0,308.3h.9v.9h-.9zM184.4,306.4h.9v.9h-.9zM191.6,312.8h.9v.9h-.9zM181.3,307.2h.9v.9h-.9zM189.1,305.0h.9v.9h-.9zM191.9,311.7h.9v.9h-.9zM174.6,306.5h.9v.9h-.9zM189.3,306.3h.9v.9h-.9zM189.3,307.1h.9v.9h-.9zM180.0,306.8h.9v.9h-.9zM180.0,306.3h.9v.9h-.9zM190.6,307.9h.9v.9h-.9zM182.8,307.1h.9v.9h-.9zM185.4,307.1h.9v.9h-.9zM192.1,306.5h.9v.9h-.9zM179.5,307.2h.9v.9h-.9zM189.8,307.0h.9v.9h-.9zM193.5,310.3h.9v.9h-.9zM178.5,306.6h.9v.9h-.9zM191.9,309.7h.9v.9h-.9zM179.3,306.3h.9v.9h-.9zM191.8,309.6h.9v.9h-.9zM174.4,307.1h.9v.9h-.9zM192.5,308.8h.9v.9h-.9zM191.1,307.5h.9v.9h-.9zM186.9,306.8h.9v.9h-.9zM192.0,309.9h.9v.9h-.9zM192.4,315.6h.9v.9h-.9zM191.5,321.2h.9v.9h-.9zM179.1,306.2h.9v.9h-.9zM190.6,307.3h.9v.9h-.9zM192.4,309.5h.9v.9h-.9zM191.2,316.5h.9v.9h-.9zM174.8,307.0h.9v.9h-.9zM190.2,306.4h.9v.9h-.9zM189.7,307.2h.9v.9h-.9zM182.5,306.6h.9v.9h-.9zM192.0,320.3h.9v.9h-.9zM180.3,306.3h.9v.9h-.9zM191.6,309.6h.9v.9h-.9zM192.7,310.9h.9v.9h-.9zM191.3,318.3h.9v.9h-.9zM176.2,306.8h.9v.9h-.9zM191.2,307.4h.9v.9h-.9zM191.3,309.0h.9v.9h-.9zM190.6,307.7h.9v.9h-.9zM189.3,305.7h.9v.9h-.9zM177.1,306.0h.9v.9h-.9zM191.6,313.9h.9v.9h-.9zM175.7,305.0h.9v.9h-.9zM183.7,306.8h.9v.9h-.9zM188.3,307.0h.9v.9h-.9zM182.7,306.9h.9v.9h-.9zM184.7,306.9h.9v.9h-.9zM182.0,307.1h.9v.9h-.9zM187.0,306.4h.9v.9h-.9zM177.1,307.0h.9v.9h-.9zM191.4,313.5h.9v.9h-.9zM181.9,307.1h.9v.9h-.9zM180.9,307.0h.9v.9h-.9zM181.7,306.3h.9v.9h-.9zM191.1,307.0h.9v.9h-.9zM188.8,306.6h.9v.9h-.9zM180.0,307.0h.9v.9h-.9zM187.4,306.4h.9v.9h-.9zM175.4,306.1h.9v.9h-.9zM175.4,306.9h.9v.9h-.9zM191.4,309.7h.9v.9h-.9zM180.8,305.5h.9v.9h-.9zM191.5,307.0h.9v.9h-.9zM192.7,310.9h.9v.9h-.9zM181.4,306.7h.9v.9h-.9zM192.8,320.3h.9v.9h-.9zM175.1,307.0h.9v.9h-.9zM192.2,321.4h.9v.9h-.9zM191.3,310.5h.9v.9h-.9zM178.2,305.7h.9v.9h-.9zM190.7,307.2h.9v.9h-.9zM192.0,318.9h.9v.9h-.9zM178.6,307.1h.9v.9h-.9zM181.5,306.7h.9v.9h-.9zM191.9,314.0h.9v.9h-.9zM188.5,307.2h.9v.9h-.9zM191.6,307.7h.9v.9h-.9zM189.5,307.0h.9v.9h-.9z"/>
<path d="M173.1,325.1 L173.1,308.0 L175.3,307.4 L178.6,307.0 L188.5,307.0 L189.1,307.1 L189.6,307.2 L190.2,307.5 L190.6,307.9 L191.0,308.3 L191.3,308.9 L191.4,309.4 L191.5,310.0 L191.7,322.1 L191.5,325.1 Z" fill="#1f3687" filter="url(#sb)"/>
<path fill="#7a8fd0" fill-opacity="0.55" d="M178.6,308.3h0.9v.9h-0.9zM174.5,313.8h1.5v.9h-1.5zM174.7,317.7h1.2v.9h-1.2zM176.2,311.6h1.5v.9h-1.5zM185.3,312.7h1.5v.9h-1.5zM178.5,322.2h1.5v.9h-1.5zM181.4,319.5h1.5v.9h-1.5zM177.0,316.9h0.9v.9h-0.9zM183.7,312.3h1.2v.9h-1.2zM189.4,318.5h0.9v.9h-0.9zM175.7,319.1h0.9v.9h-0.9zM175.8,319.6h0.9v.9h-0.9zM182.3,316.0h1.2v.9h-1.2zM177.6,320.1h1.2v.9h-1.2zM183.1,319.8h1.2v.9h-1.2z"/>
<path d="M195.1,268.2 V324.8 M172.9,305.2 H229.3" stroke="#9a9a9a" stroke-width="1.0" fill="none"/>
<rect x="172.9" y="268.2" width="56.4" height="56.6" fill="none" stroke="#888" stroke-width="1.1"/>
<text class="p" x="192.9" y="275.6" text-anchor="end">0.16%</text>
<text class="p" x="227.1" y="275.6" text-anchor="end">0.61%</text>
<text class="p" x="227.1" y="322.6" text-anchor="end">1.07%</text>
<path fill="#5c70b8" fill-opacity="0.5" d="M256.9,316.7h.9v.9h-.9zM251.2,305.7h.9v.9h-.9zM256.1,309.4h.9v.9h-.9zM245.8,306.8h.9v.9h-.9zM242.4,306.3h.9v.9h-.9zM252.7,305.8h.9v.9h-.9zM256.5,310.2h.9v.9h-.9zM256.7,308.5h.9v.9h-.9zM253.1,305.5h.9v.9h-.9zM256.1,313.2h.9v.9h-.9zM255.7,308.0h.9v.9h-.9zM252.4,306.5h.9v.9h-.9zM253.8,307.2h.9v.9h-.9zM247.4,306.6h.9v.9h-.9zM242.7,307.1h.9v.9h-.9zM256.4,320.4h.9v.9h-.9zM255.2,306.9h.9v.9h-.9zM240.1,306.5h.9v.9h-.9zM254.0,306.8h.9v.9h-.9zM256.2,309.2h.9v.9h-.9zM256.1,307.3h.9v.9h-.9zM256.7,318.1h.9v.9h-.9zM257.3,310.5h.9v.9h-.9zM250.5,306.6h.9v.9h-.9zM256.8,318.7h.9v.9h-.9zM257.8,319.6h.9v.9h-.9zM256.9,315.1h.9v.9h-.9zM257.2,322.9h.9v.9h-.9zM255.2,307.6h.9v.9h-.9zM257.4,312.5h.9v.9h-.9zM256.4,322.8h.9v.9h-.9zM256.8,319.9h.9v.9h-.9zM255.8,308.0h.9v.9h-.9zM254.4,307.3h.9v.9h-.9zM250.2,305.8h.9v.9h-.9zM257.3,308.4h.9v.9h-.9zM256.4,321.9h.9v.9h-.9zM256.1,307.9h.9v.9h-.9zM256.2,309.4h.9v.9h-.9zM246.0,306.6h.9v.9h-.9zM240.8,306.9h.9v.9h-.9zM255.8,308.0h.9v.9h-.9zM251.2,306.2h.9v.9h-.9zM241.6,306.1h.9v.9h-.9zM254.3,306.8h.9v.9h-.9zM256.0,314.9h.9v.9h-.9zM255.7,308.7h.9v.9h-.9zM257.0,316.7h.9v.9h-.9zM256.3,313.2h.9v.9h-.9zM256.8,317.9h.9v.9h-.9zM239.9,306.3h.9v.9h-.9zM258.1,308.2h.9v.9h-.9zM244.3,307.2h.9v.9h-.9zM244.7,307.0h.9v.9h-.9zM255.9,307.4h.9v.9h-.9zM254.3,305.7h.9v.9h-.9zM251.3,306.1h.9v.9h-.9zM257.0,319.8h.9v.9h-.9zM256.1,319.7h.9v.9h-.9zM253.1,306.6h.9v.9h-.9zM256.3,308.7h.9v.9h-.9zM246.8,307.0h.9v.9h-.9zM258.0,313.8h.9v.9h-.9zM252.9,305.5h.9v.9h-.9zM256.5,319.3h.9v.9h-.9zM254.6,306.8h.9v.9h-.9zM239.2,306.9h.9v.9h-.9zM248.2,306.6h.9v.9h-.9zM257.1,314.0h.9v.9h-.9zM256.7,308.7h.9v.9h-.9zM256.7,308.0h.9v.9h-.9zM256.5,320.3h.9v.9h-.9zM257.9,311.1h.9v.9h-.9zM246.0,306.9h.9v.9h-.9zM251.7,306.1h.9v.9h-.9zM257.7,322.4h.9v.9h-.9zM254.3,306.3h.9v.9h-.9zM255.8,308.4h.9v.9h-.9zM246.0,307.3h.9v.9h-.9zM256.1,314.8h.9v.9h-.9zM242.6,306.7h.9v.9h-.9zM256.6,321.3h.9v.9h-.9zM252.1,306.9h.9v.9h-.9zM255.2,305.8h.9v.9h-.9zM257.3,320.1h.9v.9h-.9zM256.9,308.5h.9v.9h-.9zM255.6,307.6h.9v.9h-.9zM256.4,310.2h.9v.9h-.9zM255.9,320.9h.9v.9h-.9zM240.0,307.1h.9v.9h-.9z"/>
<path d="M238.9,325.1 L238.9,308.0 L241.0,307.4 L244.1,307.0 L253.7,307.0 L254.2,307.0 L254.7,307.2 L255.1,307.4 L255.5,307.7 L255.8,308.1 L256.0,308.5 L256.2,309.0 L256.2,309.5 L256.4,322.1 L256.2,325.1 Z" fill="#1f3687" filter="url(#sb)"/>
<path fill="#7a8fd0" fill-opacity="0.55" d="M243.0,323.5h1.5v.9h-1.5zM244.1,311.3h1.5v.9h-1.5z"/>
<path d="M260.9,268.2 V324.8 M238.7,305.2 H295.3" stroke="#9a9a9a" stroke-width="1.0" fill="none"/>
<rect x="238.7" y="268.2" width="56.6" height="56.6" fill="none" stroke="#888" stroke-width="1.1"/>
<text class="p" x="258.7" y="275.6" text-anchor="end">0.07%</text>
<text class="p" x="293.1" y="275.6" text-anchor="end">0%</text>
<text class="p" x="293.1" y="322.6" text-anchor="end">0.03%</text>
<path d="M167.4,329.6 V310.7" stroke="#222" stroke-width="0.8" fill="none" marker-end="url(#ah)"/>
<path d="M167.4,329.6 H192.4" stroke="#222" stroke-width="0.8" fill="none" marker-end="url(#ah)"/>
<text x="196.4" y="331.7" font-size="6.5">IFN-γ</text>
<text transform="translate(171.2,305.7) rotate(-90)" font-size="6.5">IL-2</text>
<text class="b" x="397.1" y="7.1" font-size="8.65" text-anchor="middle">Progressor 1009</text>
<rect x="336" y="12.1" width="121.8" height="1.7" fill="#333"/>
<text x="403.1" y="24.8" font-size="7.9">Gated on CD4</text>
<rect x="336.7" y="30.5" width="56.8" height="56.5" fill="none" stroke="#7a7a7a" stroke-width="1"/>
<rect x="402.6" y="30.5" width="56.6" height="56.5" fill="none" stroke="#7a7a7a" stroke-width="1"/>
<path d="M336.7,87.0 L336.7,58.7 L338.6,53.4 L340.4,48.0 L341.5,45.0 L342.2,43.5 L342.9,45.0 L343.6,48.0 L344.5,55.1 L345.4,64.1 L346.3,71.3 L347.6,78.5 L349.4,83.0 L351.2,84.8 L354.8,84.2 L357.5,83.0 L360.1,80.3 L361.6,74.9 L362.8,64.1 L363.7,53.4 L364.3,49.0 L364.8,47.1 L365.4,48.6 L365.9,51.6 L366.8,62.3 L367.7,73.1 L368.6,81.2 L369.5,84.8 L370.9,86.0 L393.5,86.5 L393.5,87.0 Z" fill="#000"/>
<path d="M359.0,37.5 H373.1 M359.0,35.1 V39.9 M373.1,35.1 V39.9" stroke="#555" stroke-width="1" fill="none"/>
<path d="M402.6,87.0 L402.8,86.0 L405.5,84.8 L407.3,81.2 L409.1,74.9 L410.2,72.0 L410.9,71.0 L412.1,72.2 L413.6,77.6 L415.4,81.2 L417.2,82.1 L419.9,80.3 L422.2,77.6 L423.5,73.1 L424.7,64.1 L426.1,55.1 L427.0,51.0 L427.6,49.8 L428.2,51.5 L428.8,55.1 L429.7,64.1 L430.8,73.1 L431.9,79.4 L433.3,83.0 L436.0,85.1 L440.5,86.0 L459.2,86.5 L459.2,87.0 Z" fill="#000"/>
<path d="M420.4,37.3 H435.1 M420.4,34.9 V39.699999999999996 M435.1,34.9 V39.699999999999996" stroke="#555" stroke-width="1" fill="none"/>
<path d="M330.3,93.3 V73.6" stroke="#222" stroke-width="0.8" fill="none" marker-end="url(#ah)"/>
<path d="M330.3,93.3 H355.3" stroke="#222" stroke-width="0.8" fill="none" marker-end="url(#ah)"/>
<text x="358.9" y="96.0" font-size="6.7">CD4</text>
<text transform="translate(333.3,69.8) rotate(-90)" font-size="6.9">Counts</text>
<path d="M402.6,93.3 H418.6" stroke="#222" stroke-width="0.8" fill="none" marker-end="url(#ah)"/>
<text x="421.6" y="96.0" font-size="6.7">CCR7</text>
<text x="365.7" y="124.4" font-size="7.6" text-anchor="middle">Gated on</text>
<text x="342.4" y="131.8" font-size="7.6">CD4</text>
<text x="358.9" y="130.2" font-size="7">+</text>
<text x="362.4" y="131.8" font-size="7.6">CCR7</text>
<rect x="383.2" y="127.1" width="5.2" height="0.85" fill="#222"/>
<text x="430.9" y="124.4" font-size="7.6" text-anchor="middle">Gated on</text>
<text x="407.6" y="131.8" font-size="7.6">CD4</text>
<text x="424.1" y="130.2" font-size="7">+</text>
<text x="427.6" y="131.8" font-size="7.6">CCR7</text>
<text x="448.2" y="130.2" font-size="7">+</text>
<path fill="#5c70b8" fill-opacity="0.5" d="M341.5,177.3h.9v.9h-.9zM343.4,177.7h.9v.9h-.9zM352.6,191.6h.9v.9h-.9zM339.8,176.8h.9v.9h-.9zM351.6,178.8h.9v.9h-.9zM351.4,177.1h.9v.9h-.9zM352.6,187.0h.9v.9h-.9zM354.1,186.3h.9v.9h-.9zM354.6,184.7h.9v.9h-.9zM352.2,178.7h.9v.9h-.9zM350.1,177.0h.9v.9h-.9zM352.6,178.0h.9v.9h-.9zM350.3,176.3h.9v.9h-.9zM352.7,178.4h.9v.9h-.9zM338.5,177.5h.9v.9h-.9zM342.2,177.1h.9v.9h-.9zM349.8,177.4h.9v.9h-.9zM350.2,177.9h.9v.9h-.9zM339.7,177.1h.9v.9h-.9zM353.3,181.0h.9v.9h-.9zM352.8,178.0h.9v.9h-.9zM352.4,179.6h.9v.9h-.9zM348.0,176.9h.9v.9h-.9zM349.1,177.4h.9v.9h-.9zM353.5,183.3h.9v.9h-.9zM340.4,177.5h.9v.9h-.9zM351.8,178.6h.9v.9h-.9zM337.9,176.0h.9v.9h-.9zM341.2,177.4h.9v.9h-.9zM348.5,177.4h.9v.9h-.9zM339.7,176.2h.9v.9h-.9zM349.1,177.6h.9v.9h-.9zM341.3,176.8h.9v.9h-.9zM351.8,178.5h.9v.9h-.9zM349.0,176.9h.9v.9h-.9zM353.6,191.3h.9v.9h-.9zM353.2,183.5h.9v.9h-.9zM348.4,176.3h.9v.9h-.9zM339.1,176.3h.9v.9h-.9zM349.4,177.6h.9v.9h-.9zM347.7,177.5h.9v.9h-.9zM344.7,177.2h.9v.9h-.9zM352.1,179.6h.9v.9h-.9zM340.6,177.2h.9v.9h-.9zM353.0,182.7h.9v.9h-.9zM350.0,177.2h.9v.9h-.9zM343.9,176.8h.9v.9h-.9zM340.8,177.7h.9v.9h-.9zM339.7,177.4h.9v.9h-.9zM347.0,177.4h.9v.9h-.9zM350.4,178.0h.9v.9h-.9zM352.3,178.7h.9v.9h-.9zM341.0,177.1h.9v.9h-.9zM350.1,176.9h.9v.9h-.9zM344.4,176.2h.9v.9h-.9zM342.0,177.0h.9v.9h-.9zM348.8,177.5h.9v.9h-.9zM353.0,178.2h.9v.9h-.9zM339.1,176.7h.9v.9h-.9zM352.6,181.8h.9v.9h-.9zM349.0,177.2h.9v.9h-.9zM348.2,176.7h.9v.9h-.9zM352.8,189.8h.9v.9h-.9zM348.9,175.7h.9v.9h-.9zM340.1,177.5h.9v.9h-.9zM338.0,177.3h.9v.9h-.9zM352.8,185.1h.9v.9h-.9zM353.8,187.2h.9v.9h-.9zM343.3,177.7h.9v.9h-.9zM347.8,176.6h.9v.9h-.9zM353.0,176.8h.9v.9h-.9zM349.9,177.3h.9v.9h-.9zM350.4,177.3h.9v.9h-.9zM353.0,188.1h.9v.9h-.9zM352.6,180.7h.9v.9h-.9zM344.8,176.3h.9v.9h-.9zM349.8,177.9h.9v.9h-.9zM352.1,179.4h.9v.9h-.9zM352.6,185.8h.9v.9h-.9zM340.8,177.3h.9v.9h-.9zM339.7,177.6h.9v.9h-.9zM344.2,177.4h.9v.9h-.9zM349.9,177.2h.9v.9h-.9zM353.5,187.9h.9v.9h-.9zM341.0,177.1h.9v.9h-.9zM346.4,177.7h.9v.9h-.9zM352.6,181.5h.9v.9h-.9zM352.7,179.5h.9v.9h-.9zM344.0,176.5h.9v.9h-.9zM343.1,177.3h.9v.9h-.9z"/>
<path d="M337.3,193.3 L337.3,178.5 L339.2,177.9 L341.9,177.5 L348.8,177.5 L349.6,177.6 L350.3,177.8 L351.0,178.2 L351.6,178.7 L352.1,179.3 L352.5,180.0 L352.7,180.7 L352.8,181.5 L353.0,190.3 L352.8,193.3 Z" fill="#1f3687" filter="url(#sb)"/>
<path fill="#7a8fd0" fill-opacity="0.55" d="M338.1,181.3h0.9v.9h-0.9zM339.2,181.3h1.2v.9h-1.2zM350.1,185.9h1.2v.9h-1.2zM341.0,190.9h1.5v.9h-1.5zM345.1,179.4h1.2v.9h-1.2zM340.8,188.4h0.9v.9h-0.9zM343.5,182.5h1.2v.9h-1.2zM339.7,184.1h1.2v.9h-1.2zM341.9,187.8h1.2v.9h-1.2zM343.4,188.9h0.9v.9h-0.9zM348.0,182.5h1.2v.9h-1.2zM341.3,179.5h1.5v.9h-1.5zM345.0,179.4h1.5v.9h-1.5zM347.7,178.7h1.2v.9h-1.2zM344.6,182.9h0.9v.9h-0.9zM340.9,186.7h1.5v.9h-1.5zM340.1,187.9h1.2v.9h-1.2zM347.0,178.8h0.9v.9h-0.9zM343.5,187.2h0.9v.9h-0.9zM346.5,187.6h0.9v.9h-0.9zM348.3,187.3h1.5v.9h-1.5zM342.7,189.2h1.5v.9h-1.5zM346.7,187.3h1.5v.9h-1.5zM347.0,182.9h1.2v.9h-1.2zM346.2,187.2h0.9v.9h-0.9zM348.6,188.2h1.2v.9h-1.2zM347.0,184.8h0.9v.9h-0.9zM338.6,179.1h1.5v.9h-1.5zM342.1,181.4h0.9v.9h-0.9zM340.5,178.8h0.9v.9h-0.9zM338.6,182.0h0.9v.9h-0.9zM341.3,190.4h0.9v.9h-0.9zM347.4,180.5h0.9v.9h-0.9zM343.8,185.3h1.2v.9h-1.2z"/>
<path d="M359.3,136.6 V193.0 M337.1,173.6 H393.6" stroke="#9a9a9a" stroke-width="1.0" fill="none"/>
<rect x="337.1" y="136.6" width="56.5" height="56.4" fill="none" stroke="#888" stroke-width="1.1"/>
<text class="p" x="357.1" y="143.9" text-anchor="end">0.01%</text>
<text class="p" x="391.4" y="143.9" text-anchor="end">0%</text>
<text class="p" x="391.4" y="190.8" text-anchor="end">0%</text>
<path fill="#5c70b8" fill-opacity="0.5" d="M411.5,176.9h.9v.9h-.9zM417.9,185.3h.9v.9h-.9zM418.1,189.1h.9v.9h-.9zM404.8,177.2h.9v.9h-.9zM408.7,176.5h.9v.9h-.9zM417.7,190.5h.9v.9h-.9zM408.2,177.0h.9v.9h-.9zM418.0,188.6h.9v.9h-.9zM417.4,189.7h.9v.9h-.9zM417.2,178.0h.9v.9h-.9zM406.3,176.7h.9v.9h-.9zM416.9,177.6h.9v.9h-.9zM415.3,177.3h.9v.9h-.9zM414.6,175.4h.9v.9h-.9zM415.5,176.6h.9v.9h-.9zM413.0,176.0h.9v.9h-.9zM406.5,176.6h.9v.9h-.9zM413.6,177.3h.9v.9h-.9zM415.1,177.2h.9v.9h-.9zM405.8,177.0h.9v.9h-.9zM413.5,177.0h.9v.9h-.9zM417.8,184.8h.9v.9h-.9zM403.0,176.6h.9v.9h-.9zM413.7,176.7h.9v.9h-.9zM417.8,191.1h.9v.9h-.9zM417.6,181.9h.9v.9h-.9zM414.3,176.2h.9v.9h-.9zM417.3,177.5h.9v.9h-.9zM413.5,175.9h.9v.9h-.9zM415.1,177.0h.9v.9h-.9zM414.9,176.9h.9v.9h-.9zM411.8,177.0h.9v.9h-.9zM407.9,177.0h.9v.9h-.9zM404.4,176.6h.9v.9h-.9zM417.6,180.0h.9v.9h-.9zM413.1,175.6h.9v.9h-.9zM414.0,176.5h.9v.9h-.9zM417.1,178.2h.9v.9h-.9zM412.1,177.1h.9v.9h-.9zM406.5,176.5h.9v.9h-.9zM408.6,175.8h.9v.9h-.9zM417.3,178.3h.9v.9h-.9zM415.4,177.3h.9v.9h-.9zM403.0,177.0h.9v.9h-.9zM418.8,188.8h.9v.9h-.9zM404.3,177.0h.9v.9h-.9zM414.5,176.4h.9v.9h-.9zM417.8,183.5h.9v.9h-.9zM417.5,182.2h.9v.9h-.9zM417.0,190.3h.9v.9h-.9zM405.1,176.6h.9v.9h-.9zM414.7,176.9h.9v.9h-.9zM412.5,176.9h.9v.9h-.9zM415.0,177.2h.9v.9h-.9zM417.7,188.0h.9v.9h-.9zM408.8,176.1h.9v.9h-.9zM411.1,176.1h.9v.9h-.9zM414.3,176.2h.9v.9h-.9zM407.2,177.2h.9v.9h-.9zM417.9,185.9h.9v.9h-.9zM417.3,191.3h.9v.9h-.9zM406.9,177.3h.9v.9h-.9zM406.8,177.0h.9v.9h-.9zM410.0,175.4h.9v.9h-.9zM412.5,176.9h.9v.9h-.9zM408.2,176.0h.9v.9h-.9zM418.4,179.3h.9v.9h-.9zM403.7,176.1h.9v.9h-.9zM414.7,177.1h.9v.9h-.9zM417.3,180.8h.9v.9h-.9zM404.5,176.8h.9v.9h-.9zM409.4,176.2h.9v.9h-.9zM410.2,176.5h.9v.9h-.9zM411.1,176.4h.9v.9h-.9zM406.9,177.0h.9v.9h-.9zM413.4,176.2h.9v.9h-.9zM417.2,180.0h.9v.9h-.9zM415.3,177.3h.9v.9h-.9zM412.7,176.2h.9v.9h-.9zM411.8,176.1h.9v.9h-.9zM412.7,176.2h.9v.9h-.9zM416.0,177.0h.9v.9h-.9zM403.9,176.8h.9v.9h-.9zM408.2,176.7h.9v.9h-.9zM407.0,175.6h.9v.9h-.9zM408.1,176.9h.9v.9h-.9zM417.2,179.4h.9v.9h-.9zM407.6,175.9h.9v.9h-.9zM418.2,189.5h.9v.9h-.9zM415.1,177.3h.9v.9h-.9z"/>
<path d="M402.8,193.3 L402.8,178.0 L404.5,177.4 L407.2,177.0 L414.3,177.0 L414.9,177.1 L415.4,177.2 L416.0,177.5 L416.4,177.9 L416.8,178.3 L417.1,178.9 L417.2,179.4 L417.3,180.0 L417.5,190.3 L417.3,193.3 Z" fill="#1f3687" filter="url(#sb)"/>
<path fill="#7a8fd0" fill-opacity="0.55" d="M411.0,182.3h0.9v.9h-0.9zM403.6,181.1h1.5v.9h-1.5z"/>
<path d="M424.8,136.6 V193.0 M402.6,173.6 H458.5" stroke="#9a9a9a" stroke-width="1.0" fill="none"/>
<rect x="402.6" y="136.6" width="55.9" height="56.4" fill="none" stroke="#888" stroke-width="1.1"/>
<text class="p" x="422.6" y="143.9" text-anchor="end">0.01%</text>
<text class="p" x="456.3" y="143.9" text-anchor="end">0%</text>
<text class="p" x="456.3" y="190.8" text-anchor="end">0%</text>
<path fill="#5c70b8" fill-opacity="0.5" d="M343.0,241.3h.9v.9h-.9zM341.9,241.2h.9v.9h-.9zM353.8,249.4h.9v.9h-.9zM351.7,241.9h.9v.9h-.9zM338.7,241.0h.9v.9h-.9zM351.0,241.8h.9v.9h-.9zM353.5,240.8h.9v.9h-.9zM353.8,255.4h.9v.9h-.9zM348.0,240.7h.9v.9h-.9zM353.6,256.4h.9v.9h-.9zM353.3,253.0h.9v.9h-.9zM342.2,241.3h.9v.9h-.9zM354.7,247.7h.9v.9h-.9zM354.2,256.4h.9v.9h-.9zM343.8,241.6h.9v.9h-.9zM353.6,243.2h.9v.9h-.9zM353.8,253.6h.9v.9h-.9zM351.1,240.2h.9v.9h-.9zM337.7,241.8h.9v.9h-.9zM343.9,241.4h.9v.9h-.9zM346.9,241.6h.9v.9h-.9zM344.8,241.1h.9v.9h-.9zM353.2,244.0h.9v.9h-.9zM341.2,241.6h.9v.9h-.9zM353.8,246.2h.9v.9h-.9zM348.9,241.6h.9v.9h-.9zM347.5,240.9h.9v.9h-.9zM353.7,248.4h.9v.9h-.9zM353.8,247.7h.9v.9h-.9zM349.7,241.4h.9v.9h-.9zM354.1,249.1h.9v.9h-.9zM351.2,241.9h.9v.9h-.9zM354.6,249.7h.9v.9h-.9zM342.8,240.9h.9v.9h-.9zM352.4,242.0h.9v.9h-.9zM352.8,242.2h.9v.9h-.9zM346.5,241.2h.9v.9h-.9zM344.8,240.8h.9v.9h-.9zM345.5,241.3h.9v.9h-.9zM351.4,241.8h.9v.9h-.9zM353.3,251.1h.9v.9h-.9zM353.5,249.7h.9v.9h-.9zM340.9,240.9h.9v.9h-.9zM344.8,241.8h.9v.9h-.9zM353.8,255.9h.9v.9h-.9zM346.5,241.3h.9v.9h-.9zM353.7,241.9h.9v.9h-.9zM341.3,241.2h.9v.9h-.9zM345.1,241.9h.9v.9h-.9zM353.3,247.8h.9v.9h-.9zM347.3,241.9h.9v.9h-.9zM341.3,241.3h.9v.9h-.9zM339.5,241.6h.9v.9h-.9zM339.9,240.6h.9v.9h-.9zM354.2,252.9h.9v.9h-.9zM353.1,242.4h.9v.9h-.9zM353.0,243.5h.9v.9h-.9zM353.9,247.2h.9v.9h-.9zM348.7,240.8h.9v.9h-.9zM353.5,245.3h.9v.9h-.9zM346.4,240.9h.9v.9h-.9zM353.1,243.8h.9v.9h-.9zM353.5,246.3h.9v.9h-.9zM355.6,257.0h.9v.9h-.9zM339.1,240.3h.9v.9h-.9zM343.8,241.6h.9v.9h-.9zM349.4,241.3h.9v.9h-.9zM346.8,240.6h.9v.9h-.9zM345.0,241.4h.9v.9h-.9zM355.3,243.4h.9v.9h-.9zM353.2,242.5h.9v.9h-.9zM347.4,241.6h.9v.9h-.9zM354.0,253.7h.9v.9h-.9zM341.3,241.6h.9v.9h-.9zM339.7,240.3h.9v.9h-.9zM353.7,245.4h.9v.9h-.9zM354.9,254.8h.9v.9h-.9zM352.6,242.4h.9v.9h-.9zM348.5,241.0h.9v.9h-.9zM353.2,255.7h.9v.9h-.9zM340.8,241.1h.9v.9h-.9zM351.0,241.4h.9v.9h-.9zM355.9,244.1h.9v.9h-.9zM343.4,241.0h.9v.9h-.9zM354.1,243.9h.9v.9h-.9zM353.6,251.3h.9v.9h-.9zM345.4,241.0h.9v.9h-.9zM350.9,241.1h.9v.9h-.9zM354.4,244.0h.9v.9h-.9zM353.2,248.1h.9v.9h-.9z"/>
<path d="M337.3,258.7 L337.3,242.6 L339.2,242.0 L342.2,241.6 L350.5,241.6 L351.1,241.7 L351.6,241.8 L352.2,242.1 L352.6,242.5 L353.0,242.9 L353.3,243.5 L353.4,244.0 L353.5,244.6 L353.7,255.7 L353.5,258.7 Z" fill="#1f3687" filter="url(#sb)"/>
<path fill="#7a8fd0" fill-opacity="0.55" d="M341.3,252.6h1.5v.9h-1.5zM345.5,251.9h1.2v.9h-1.2zM346.7,257.2h1.2v.9h-1.2zM349.9,253.2h0.9v.9h-0.9zM344.3,245.1h0.9v.9h-0.9zM345.1,255.0h0.9v.9h-0.9zM347.3,255.1h1.2v.9h-1.2zM348.1,243.9h1.2v.9h-1.2zM340.9,249.1h1.5v.9h-1.5zM348.5,247.0h1.5v.9h-1.5zM344.7,251.8h1.5v.9h-1.5zM348.8,253.0h0.9v.9h-0.9zM346.7,257.0h0.9v.9h-0.9zM348.8,244.2h1.5v.9h-1.5zM347.9,254.2h0.9v.9h-0.9z"/>
<path d="M359.3,201.4 V258.4 M337.1,238.4 H393.6" stroke="#9a9a9a" stroke-width="1.0" fill="none"/>
<rect x="337.1" y="201.4" width="56.5" height="57.0" fill="none" stroke="#888" stroke-width="1.1"/>
<text class="p" x="357.1" y="208.8" text-anchor="end">0.09%</text>
<text class="p" x="391.4" y="208.8" text-anchor="end">0.81%</text>
<text class="p" x="391.4" y="256.2" text-anchor="end">3.49%</text>
<path fill="#5c70b8" fill-opacity="0.5" d="M416.7,240.5h.9v.9h-.9zM411.4,242.2h.9v.9h-.9zM412.7,241.3h.9v.9h-.9zM419.4,249.4h.9v.9h-.9zM410.2,239.8h.9v.9h-.9zM419.3,256.7h.9v.9h-.9zM409.9,242.2h.9v.9h-.9zM416.2,241.9h.9v.9h-.9zM418.0,243.0h.9v.9h-.9zM405.0,241.5h.9v.9h-.9zM410.5,241.1h.9v.9h-.9zM419.0,255.1h.9v.9h-.9zM419.4,248.9h.9v.9h-.9zM415.9,241.6h.9v.9h-.9zM407.3,241.1h.9v.9h-.9zM419.8,245.3h.9v.9h-.9zM414.1,241.1h.9v.9h-.9zM418.9,254.9h.9v.9h-.9zM409.5,242.0h.9v.9h-.9zM403.2,242.3h.9v.9h-.9zM407.8,239.9h.9v.9h-.9zM418.6,253.9h.9v.9h-.9zM406.8,241.8h.9v.9h-.9zM416.8,242.1h.9v.9h-.9zM407.2,241.5h.9v.9h-.9zM404.3,242.3h.9v.9h-.9zM406.5,240.5h.9v.9h-.9zM403.8,241.3h.9v.9h-.9zM418.6,249.5h.9v.9h-.9zM418.8,256.1h.9v.9h-.9zM415.6,242.0h.9v.9h-.9zM418.7,248.0h.9v.9h-.9zM419.1,248.5h.9v.9h-.9zM417.2,241.7h.9v.9h-.9zM416.3,242.3h.9v.9h-.9zM418.7,250.4h.9v.9h-.9zM416.7,242.1h.9v.9h-.9zM413.5,241.7h.9v.9h-.9zM417.3,241.4h.9v.9h-.9zM418.8,252.7h.9v.9h-.9zM419.3,253.6h.9v.9h-.9zM419.1,243.7h.9v.9h-.9zM410.2,242.1h.9v.9h-.9zM408.6,241.5h.9v.9h-.9zM419.1,251.6h.9v.9h-.9zM418.3,243.7h.9v.9h-.9zM416.5,242.2h.9v.9h-.9zM417.5,241.5h.9v.9h-.9zM409.5,239.9h.9v.9h-.9zM418.6,252.5h.9v.9h-.9zM412.1,239.7h.9v.9h-.9zM415.7,241.5h.9v.9h-.9zM419.2,242.4h.9v.9h-.9zM410.4,241.6h.9v.9h-.9zM416.8,242.0h.9v.9h-.9zM409.1,241.9h.9v.9h-.9zM416.1,241.9h.9v.9h-.9zM419.6,246.3h.9v.9h-.9zM419.5,254.1h.9v.9h-.9zM410.9,241.1h.9v.9h-.9zM405.9,242.3h.9v.9h-.9zM404.2,240.7h.9v.9h-.9zM418.1,243.4h.9v.9h-.9zM418.8,247.2h.9v.9h-.9zM418.5,246.0h.9v.9h-.9zM418.7,247.3h.9v.9h-.9zM418.8,254.9h.9v.9h-.9zM404.8,242.2h.9v.9h-.9zM409.9,242.0h.9v.9h-.9zM416.3,241.4h.9v.9h-.9zM413.1,241.6h.9v.9h-.9zM419.1,252.2h.9v.9h-.9zM417.8,243.1h.9v.9h-.9zM419.1,256.8h.9v.9h-.9zM408.0,241.8h.9v.9h-.9zM416.9,241.7h.9v.9h-.9zM414.9,241.9h.9v.9h-.9zM414.6,242.2h.9v.9h-.9zM407.9,242.3h.9v.9h-.9zM418.8,249.4h.9v.9h-.9zM413.6,242.3h.9v.9h-.9zM419.2,255.4h.9v.9h-.9zM414.1,242.0h.9v.9h-.9zM416.5,240.8h.9v.9h-.9zM419.2,243.7h.9v.9h-.9zM408.2,241.8h.9v.9h-.9zM420.6,244.1h.9v.9h-.9zM408.8,240.6h.9v.9h-.9zM417.5,242.4h.9v.9h-.9zM418.6,249.5h.9v.9h-.9z"/>
<path d="M402.8,258.7 L402.8,243.0 L404.7,242.4 L407.6,242.0 L415.8,242.0 L416.4,242.1 L416.9,242.2 L417.5,242.5 L417.9,242.9 L418.3,243.3 L418.6,243.9 L418.7,244.4 L418.8,245.0 L419.0,255.7 L418.8,258.7 Z" fill="#1f3687" filter="url(#sb)"/>
<path fill="#7a8fd0" fill-opacity="0.55" d="M415.2,255.8h1.5v.9h-1.5zM412.3,243.2h0.9v.9h-0.9z"/>
<path d="M424.8,201.4 V258.4 M402.6,238.4 H458.5" stroke="#9a9a9a" stroke-width="1.0" fill="none"/>
<rect x="402.6" y="201.4" width="55.9" height="57.0" fill="none" stroke="#888" stroke-width="1.1"/>
<text class="p" x="422.6" y="208.8" text-anchor="end">0.05%</text>
<text class="p" x="456.3" y="208.8" text-anchor="end">0.01%</text>
<text class="p" x="456.3" y="256.2" text-anchor="end">0.05%</text>
<path fill="#5c70b8" fill-opacity="0.5" d="M342.4,304.4h.9v.9h-.9zM339.8,305.1h.9v.9h-.9zM356.1,316.8h.9v.9h-.9zM355.5,315.8h.9v.9h-.9zM355.8,308.8h.9v.9h-.9zM354.4,306.9h.9v.9h-.9zM345.0,306.1h.9v.9h-.9zM343.7,306.1h.9v.9h-.9zM339.3,306.1h.9v.9h-.9zM349.0,305.3h.9v.9h-.9zM340.8,305.8h.9v.9h-.9zM355.8,313.9h.9v.9h-.9zM352.5,305.7h.9v.9h-.9zM344.4,306.3h.9v.9h-.9zM355.4,308.3h.9v.9h-.9zM353.7,306.4h.9v.9h-.9zM355.3,319.3h.9v.9h-.9zM355.9,312.7h.9v.9h-.9zM355.2,315.7h.9v.9h-.9zM354.8,306.8h.9v.9h-.9zM344.4,306.2h.9v.9h-.9zM355.6,308.4h.9v.9h-.9zM341.7,305.7h.9v.9h-.9zM355.8,308.7h.9v.9h-.9zM345.3,305.4h.9v.9h-.9zM339.3,304.7h.9v.9h-.9zM353.5,306.1h.9v.9h-.9zM355.7,311.1h.9v.9h-.9zM353.5,306.5h.9v.9h-.9zM354.2,305.7h.9v.9h-.9zM355.3,307.9h.9v.9h-.9zM341.7,304.7h.9v.9h-.9zM354.8,306.0h.9v.9h-.9zM338.6,304.9h.9v.9h-.9zM338.0,305.5h.9v.9h-.9zM355.2,309.8h.9v.9h-.9zM340.9,306.1h.9v.9h-.9zM356.3,314.9h.9v.9h-.9zM356.1,321.5h.9v.9h-.9zM346.5,305.7h.9v.9h-.9zM353.9,305.4h.9v.9h-.9zM346.3,306.1h.9v.9h-.9zM340.3,305.0h.9v.9h-.9zM348.2,304.5h.9v.9h-.9zM355.4,307.8h.9v.9h-.9zM353.4,305.9h.9v.9h-.9zM355.3,315.2h.9v.9h-.9zM346.9,305.5h.9v.9h-.9zM355.6,308.0h.9v.9h-.9zM341.7,305.2h.9v.9h-.9zM340.8,305.9h.9v.9h-.9zM348.5,306.0h.9v.9h-.9zM354.0,306.3h.9v.9h-.9zM353.4,306.2h.9v.9h-.9zM341.8,305.9h.9v.9h-.9zM343.6,305.7h.9v.9h-.9zM353.0,305.6h.9v.9h-.9zM349.8,306.0h.9v.9h-.9zM340.1,304.6h.9v.9h-.9zM350.7,306.2h.9v.9h-.9zM344.0,305.8h.9v.9h-.9zM352.4,305.4h.9v.9h-.9zM355.1,312.7h.9v.9h-.9zM355.2,311.6h.9v.9h-.9zM353.3,305.4h.9v.9h-.9zM339.5,303.7h.9v.9h-.9zM352.9,305.7h.9v.9h-.9zM355.5,311.4h.9v.9h-.9zM338.3,305.8h.9v.9h-.9zM342.2,306.1h.9v.9h-.9zM345.0,303.9h.9v.9h-.9zM346.3,305.9h.9v.9h-.9zM356.7,321.5h.9v.9h-.9zM346.7,305.2h.9v.9h-.9zM355.9,315.6h.9v.9h-.9zM353.1,303.7h.9v.9h-.9zM353.0,306.0h.9v.9h-.9zM346.5,305.8h.9v.9h-.9zM355.5,318.6h.9v.9h-.9zM356.3,313.2h.9v.9h-.9zM345.0,305.5h.9v.9h-.9zM355.3,307.8h.9v.9h-.9zM345.7,306.2h.9v.9h-.9zM352.4,305.8h.9v.9h-.9zM342.0,304.8h.9v.9h-.9zM341.1,305.8h.9v.9h-.9zM353.3,305.1h.9v.9h-.9zM345.4,304.5h.9v.9h-.9zM345.5,306.2h.9v.9h-.9zM354.0,306.4h.9v.9h-.9z"/>
<path d="M337.3,323.7 L337.3,307.0 L339.5,306.4 L342.7,306.0 L352.3,306.0 L352.9,306.1 L353.4,306.2 L354.0,306.5 L354.4,306.9 L354.8,307.3 L355.1,307.9 L355.2,308.4 L355.3,309.0 L355.5,320.7 L355.3,323.7 Z" fill="#1f3687" filter="url(#sb)"/>
<path fill="#7a8fd0" fill-opacity="0.55" d="M353.1,316.6h1.2v.9h-1.2zM353.3,315.7h1.2v.9h-1.2zM339.3,314.3h1.5v.9h-1.5zM349.5,312.3h0.9v.9h-0.9zM347.2,311.6h1.5v.9h-1.5zM349.0,320.5h1.2v.9h-1.2zM351.5,322.0h1.2v.9h-1.2zM353.2,319.6h0.9v.9h-0.9zM346.8,313.8h0.9v.9h-0.9zM340.1,314.0h1.2v.9h-1.2zM347.7,309.2h0.9v.9h-0.9zM343.2,312.9h0.9v.9h-0.9zM338.1,312.6h1.5v.9h-1.5zM348.3,322.1h1.5v.9h-1.5zM349.0,313.6h0.9v.9h-0.9z"/>
<path d="M359.3,267.4 V323.4 M337.1,304.4 H393.6" stroke="#9a9a9a" stroke-width="1.0" fill="none"/>
<rect x="337.1" y="267.4" width="56.5" height="56.0" fill="none" stroke="#888" stroke-width="1.1"/>
<text class="p" x="357.1" y="274.8" text-anchor="end">0.07%</text>
<text class="p" x="391.4" y="274.8" text-anchor="end">0.04%</text>
<text class="p" x="391.4" y="321.2" text-anchor="end">0.44%</text>
<path fill="#5c70b8" fill-opacity="0.5" d="M420.3,319.5h.9v.9h-.9zM405.2,305.9h.9v.9h-.9zM410.1,305.3h.9v.9h-.9zM420.0,304.6h.9v.9h-.9zM414.1,305.1h.9v.9h-.9zM412.0,304.1h.9v.9h-.9zM414.1,305.3h.9v.9h-.9zM418.4,304.9h.9v.9h-.9zM405.0,305.6h.9v.9h-.9zM421.0,313.5h.9v.9h-.9zM411.9,304.3h.9v.9h-.9zM419.9,306.3h.9v.9h-.9zM409.1,305.2h.9v.9h-.9zM420.8,311.9h.9v.9h-.9zM420.8,305.0h.9v.9h-.9zM420.9,307.5h.9v.9h-.9zM420.8,308.5h.9v.9h-.9zM420.7,319.7h.9v.9h-.9zM415.4,305.4h.9v.9h-.9zM413.9,304.3h.9v.9h-.9zM420.8,310.6h.9v.9h-.9zM416.7,304.9h.9v.9h-.9zM420.4,315.0h.9v.9h-.9zM406.1,305.2h.9v.9h-.9zM420.6,318.7h.9v.9h-.9zM405.0,305.2h.9v.9h-.9zM421.0,314.5h.9v.9h-.9zM420.4,321.2h.9v.9h-.9zM413.7,305.3h.9v.9h-.9zM421.0,311.0h.9v.9h-.9zM420.6,321.1h.9v.9h-.9zM421.4,307.2h.9v.9h-.9zM420.9,318.5h.9v.9h-.9zM422.1,315.3h.9v.9h-.9zM411.7,304.8h.9v.9h-.9zM421.6,309.3h.9v.9h-.9zM420.6,318.7h.9v.9h-.9zM413.9,304.7h.9v.9h-.9zM420.1,313.5h.9v.9h-.9zM419.5,304.0h.9v.9h-.9zM410.1,305.8h.9v.9h-.9zM414.6,305.2h.9v.9h-.9zM415.2,305.7h.9v.9h-.9zM420.5,321.7h.9v.9h-.9zM420.2,307.6h.9v.9h-.9zM405.6,305.1h.9v.9h-.9zM418.3,305.6h.9v.9h-.9zM414.0,304.9h.9v.9h-.9zM417.4,305.0h.9v.9h-.9zM420.4,316.0h.9v.9h-.9zM411.9,305.6h.9v.9h-.9zM420.4,308.8h.9v.9h-.9zM420.7,316.9h.9v.9h-.9zM403.8,305.8h.9v.9h-.9zM421.1,305.2h.9v.9h-.9zM412.8,305.9h.9v.9h-.9zM415.5,304.6h.9v.9h-.9zM411.3,305.4h.9v.9h-.9zM420.0,314.7h.9v.9h-.9zM420.5,310.0h.9v.9h-.9zM412.7,304.7h.9v.9h-.9zM407.2,305.9h.9v.9h-.9zM422.4,306.3h.9v.9h-.9zM418.0,304.9h.9v.9h-.9zM412.9,304.8h.9v.9h-.9zM421.1,315.2h.9v.9h-.9zM420.9,314.7h.9v.9h-.9zM404.0,305.8h.9v.9h-.9zM405.0,304.5h.9v.9h-.9zM418.4,305.9h.9v.9h-.9zM420.1,322.1h.9v.9h-.9zM418.2,305.9h.9v.9h-.9zM417.3,304.6h.9v.9h-.9zM418.1,305.8h.9v.9h-.9zM415.8,305.0h.9v.9h-.9zM420.0,307.0h.9v.9h-.9zM420.3,315.8h.9v.9h-.9zM412.3,305.2h.9v.9h-.9zM412.0,305.6h.9v.9h-.9zM421.5,313.2h.9v.9h-.9zM420.6,312.3h.9v.9h-.9zM410.8,305.0h.9v.9h-.9zM405.1,305.7h.9v.9h-.9zM412.0,305.6h.9v.9h-.9zM419.6,305.5h.9v.9h-.9zM422.0,306.3h.9v.9h-.9zM407.7,305.8h.9v.9h-.9zM420.6,313.9h.9v.9h-.9zM421.1,316.7h.9v.9h-.9zM420.3,316.8h.9v.9h-.9z"/>
<path d="M402.8,323.7 L402.8,306.6 L404.9,306.0 L408.1,305.6 L417.8,305.6 L418.3,305.6 L418.8,305.8 L419.2,306.0 L419.6,306.3 L419.9,306.7 L420.1,307.1 L420.3,307.6 L420.3,308.1 L420.5,320.7 L420.3,323.7 Z" fill="#1f3687" filter="url(#sb)"/>
<path fill="#7a8fd0" fill-opacity="0.55" d="M403.7,314.6h1.2v.9h-1.2zM414.1,307.5h0.9v.9h-0.9z"/>
<path d="M424.8,267.4 V323.4 M402.6,304.4 H458.5" stroke="#9a9a9a" stroke-width="1.0" fill="none"/>
<rect x="402.6" y="267.4" width="55.9" height="56.0" fill="none" stroke="#888" stroke-width="1.1"/>
<text class="p" x="422.6" y="274.8" text-anchor="end">0.05%</text>
<text class="p" x="456.3" y="274.8" text-anchor="end">0.01%</text>
<text class="p" x="456.3" y="321.2" text-anchor="end">0.01%</text>
<path d="M330.7,329.5 V310.7" stroke="#222" stroke-width="0.8" fill="none" marker-end="url(#ah)"/>
<path d="M330.7,329.5 H355.7" stroke="#222" stroke-width="0.8" fill="none" marker-end="url(#ah)"/>
<text x="359.7" y="332.0" font-size="6.5">IFN-γ</text>
<text transform="translate(333.0,305.7) rotate(-90)" font-size="6.5">IL-2</text>
<text class="b" x="465.6" y="166.9" font-size="8.7">Unstimulated</text>
<text class="b" x="465.6" y="231.9" font-size="8.7">CMV</text>
<text class="b" x="465.6" y="298.6" font-size="8.7">p55</text>
</svg></body></html>
